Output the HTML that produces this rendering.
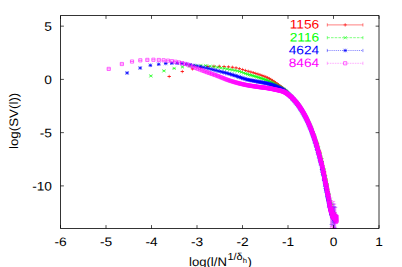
<!DOCTYPE html>
<html><head><meta charset="utf-8"><title>plot</title>
<style>html,body{margin:0;padding:0;background:#fff}svg{display:block}text{font-family:"Liberation Sans",sans-serif;text-rendering:geometricPrecision}</style>
</head><body>
<svg width="402" height="267" viewBox="0 0 402 267">
<defs>
<path id="p" d="M-1.7 0H1.7M0 -1.7V1.7"/>
<path id="c" d="M-1.6 -1.6L1.6 1.6M-1.6 1.6L1.6 -1.6"/>
<path id="s" d="M-1.8 0H1.8M0 -1.8V1.8M-1.7 -1.7L1.7 1.7M-1.7 1.7L1.7 -1.7"/>
<path id="b" d="M-1.6 -1.6H1.6V1.6H-1.6Z"/>
</defs>
<rect width="402" height="267" fill="#fff"/>
<clipPath id="cp"><rect x="60" y="15" width="319.5" height="214"/></clipPath>
<g clip-path="url(#cp)">
<g stroke="#ff0000" fill="none" stroke-width="0.6"><use href="#p" x="169.23" y="76.49"/><path d="M167.63 76.49h3.2"/><use href="#p" x="182.34" y="71.52"/><path d="M180.74 71.52h3.2"/><use href="#p" x="192.50" y="68.90"/><path d="M190.90 68.90h3.2"/><use href="#p" x="200.81" y="67.40"/><path d="M199.21 67.40h3.2"/><use href="#p" x="207.84" y="66.50"/><path d="M206.24 66.50h3.2"/><use href="#p" x="213.92" y="66.30"/><path d="M212.32 66.30h3.2"/><use href="#p" x="219.29" y="66.30"/><path d="M217.69 66.30h3.2"/><use href="#p" x="224.09" y="66.59"/><path d="M222.49 66.59h3.2"/><use href="#p" x="228.44" y="66.89"/><path d="M226.84 66.89h3.2"/><use href="#p" x="232.40" y="67.27"/><path d="M230.80 67.27h3.2"/><use href="#p" x="236.05" y="67.87"/><path d="M234.45 67.87h3.2"/><use href="#p" x="239.43" y="68.65"/><path d="M237.83 68.65h3.2"/><use href="#p" x="242.57" y="69.57"/><path d="M240.97 69.57h3.2"/><use href="#p" x="245.51" y="70.48"/><path d="M243.91 70.48h3.2"/><use href="#p" x="248.27" y="71.28"/><path d="M246.67 71.28h3.2"/><use href="#p" x="250.88" y="72.01"/><path d="M249.28 72.01h3.2"/><use href="#p" x="253.34" y="72.72"/><path d="M251.74 72.72h3.2"/><use href="#p" x="255.68" y="73.42"/><path d="M254.08 73.42h3.2"/><use href="#p" x="257.90" y="74.13"/><path d="M256.30 74.13h3.2"/><use href="#p" x="260.02" y="74.84"/><path d="M258.42 74.84h3.2"/><use href="#p" x="262.05" y="75.54"/><path d="M260.45 75.54h3.2"/><use href="#p" x="263.99" y="76.25"/><path d="M262.39 76.25h3.2"/><use href="#p" x="265.85" y="76.99"/><path d="M264.25 76.99h3.2"/><use href="#p" x="267.64" y="77.77"/><path d="M266.04 77.77h3.2"/><use href="#p" x="269.36" y="78.61"/><path d="M267.76 78.61h3.2"/><use href="#p" x="271.01" y="79.54"/><path d="M269.41 79.54h3.2"/><use href="#p" x="272.61" y="80.55"/><path d="M271.01 80.55h3.2"/><use href="#p" x="274.16" y="81.61"/><path d="M272.56 81.61h3.2"/><use href="#p" x="275.65" y="82.68"/><path d="M274.05 82.68h3.2"/><use href="#p" x="277.10" y="83.75"/><path d="M275.50 83.75h3.2"/><use href="#p" x="278.50" y="84.80"/><path d="M276.90 84.80h3.2"/><use href="#p" x="279.86" y="85.82"/><path d="M278.26 85.82h3.2"/><use href="#p" x="281.18" y="86.84"/><path d="M279.58 86.84h3.2"/><use href="#p" x="282.47" y="87.87"/><path d="M280.87 87.87h3.2"/><use href="#p" x="283.71" y="88.91"/><path d="M282.11 88.91h3.2"/><use href="#p" x="284.93" y="89.99"/><path d="M283.33 89.99h3.2"/><use href="#p" x="286.11" y="91.11"/><path d="M284.51 91.11h3.2"/><use href="#p" x="287.27" y="92.35"/><path d="M285.67 92.35h3.2"/><use href="#p" x="288.39" y="93.69"/><path d="M286.79 93.69h3.2"/><use href="#p" x="289.49" y="95.01"/><path d="M287.89 95.01h3.2"/><use href="#p" x="290.56" y="96.24"/><path d="M288.96 96.24h3.2"/><use href="#p" x="291.61" y="97.29"/><path d="M290.01 97.29h3.2"/><use href="#p" x="292.64" y="98.30"/><path d="M291.04 98.30h3.2"/><use href="#p" x="293.64" y="99.34"/><path d="M292.04 99.34h3.2"/><use href="#p" x="294.62" y="100.42"/><path d="M293.02 100.42h3.2"/><use href="#p" x="295.58" y="101.52"/><path d="M293.98 101.52h3.2"/><use href="#p" x="296.52" y="102.66"/><path d="M294.92 102.66h3.2"/><use href="#p" x="297.44" y="103.82"/><path d="M295.84 103.82h3.2"/><use href="#p" x="298.34" y="105.02"/><path d="M296.74 105.02h3.2"/><use href="#p" x="299.22" y="106.24"/><path d="M297.62 106.24h3.2"/><use href="#p" x="300.09" y="107.50"/><path d="M298.49 107.50h3.2"/><use href="#p" x="300.94" y="108.78"/><path d="M299.34 108.78h3.2"/><use href="#p" x="301.78" y="110.10"/><path d="M300.18 110.10h3.2"/><use href="#p" x="302.60" y="111.44"/><path d="M301.00 111.44h3.2"/><use href="#p" x="303.41" y="112.82"/><path d="M301.81 112.82h3.2"/><use href="#p" x="304.20" y="114.23"/><path d="M302.60 114.23h3.2"/><use href="#p" x="304.98" y="115.67"/><path d="M303.38 115.67h3.2"/><use href="#p" x="305.75" y="117.01"/><path d="M304.15 117.01h3.2"/><use href="#p" x="306.50" y="118.38"/><path d="M304.90 118.38h3.2"/><use href="#p" x="307.24" y="119.76"/><path d="M305.64 119.76h3.2"/><use href="#p" x="307.97" y="121.17"/><path d="M306.37 121.17h3.2"/><use href="#p" x="308.69" y="122.61"/><path d="M307.09 122.61h3.2"/><use href="#p" x="309.39" y="124.07"/><path d="M307.79 124.07h3.2"/><use href="#p" x="310.09" y="125.55"/><path d="M308.49 125.55h3.2"/><use href="#p" x="310.77" y="127.06"/><path d="M309.17 127.06h3.2"/><use href="#p" x="311.45" y="128.58"/><path d="M309.85 128.58h3.2"/><use href="#p" x="312.11" y="130.14"/><path d="M310.51 130.14h3.2"/><use href="#p" x="312.77" y="131.71"/><path d="M311.17 131.71h3.2"/><use href="#p" x="313.42" y="133.42"/><path d="M311.82 133.42h3.2"/><use href="#p" x="314.05" y="135.21"/><path d="M312.45 135.21h3.2"/><use href="#p" x="314.68" y="136.44"/><path stroke-width="0.4" d="M314.68 135.86V137.30M313.08 135.86h3.2M313.08 137.30h3.2"/><use href="#p" x="315.30" y="139.74"/><path stroke-width="0.4" d="M315.30 139.11V140.67M313.70 139.11h3.2M313.70 140.67h3.2"/><use href="#p" x="315.91" y="140.76"/><path stroke-width="0.4" d="M315.91 140.08V141.77M314.31 140.08h3.2M314.31 141.77h3.2"/><use href="#p" x="316.52" y="142.43"/><path stroke-width="0.4" d="M316.52 141.69V143.54M314.92 141.69h3.2M314.92 143.54h3.2"/><use href="#p" x="317.11" y="143.37"/><path stroke-width="0.4" d="M317.11 142.57V144.57M315.51 142.57h3.2M315.51 144.57h3.2"/><use href="#p" x="317.70" y="145.69"/><path stroke-width="0.4" d="M317.70 144.81V147.00M316.10 144.81h3.2M316.10 147.00h3.2"/><use href="#p" x="318.28" y="148.50"/><path stroke-width="0.4" d="M318.28 147.54V149.94M316.68 147.54h3.2M316.68 149.94h3.2"/><use href="#p" x="318.86" y="150.58"/><path stroke-width="0.4" d="M318.86 149.53V152.15M317.26 149.53h3.2M317.26 152.15h3.2"/><use href="#p" x="319.42" y="152.52"/><path stroke-width="0.4" d="M319.42 151.37V154.25M317.82 151.37h3.2M317.82 154.25h3.2"/><use href="#p" x="319.98" y="152.57"/><path stroke-width="0.4" d="M319.98 151.31V154.47M318.38 151.31h3.2M318.38 154.47h3.2"/><use href="#p" x="320.53" y="156.95"/><path stroke-width="0.4" d="M320.53 155.56V159.03M318.93 155.56h3.2M318.93 159.03h3.2"/><use href="#p" x="321.08" y="158.95"/><path stroke-width="0.4" d="M321.08 157.42V161.23M319.48 157.42h3.2M319.48 161.23h3.2"/><use href="#p" x="321.62" y="160.25"/><path stroke-width="0.4" d="M321.62 158.72V162.53M320.02 158.72h3.2M320.02 162.53h3.2"/><use href="#p" x="322.15" y="163.14"/><path stroke-width="0.4" d="M322.15 161.62V165.43M320.55 161.62h3.2M320.55 165.43h3.2"/><use href="#p" x="322.68" y="165.52"/><path stroke-width="0.4" d="M322.68 163.99V167.80M321.08 163.99h3.2M321.08 167.80h3.2"/><use href="#p" x="323.20" y="169.09"/><path stroke-width="0.4" d="M323.20 167.56V171.37M321.60 167.56h3.2M321.60 171.37h3.2"/><use href="#p" x="323.71" y="169.89"/><path stroke-width="0.4" d="M323.71 168.37V172.17M322.11 168.37h3.2M322.11 172.17h3.2"/><use href="#p" x="324.22" y="172.85"/><path stroke-width="0.4" d="M324.22 171.32V175.13M322.62 171.32h3.2M322.62 175.13h3.2"/><use href="#p" x="324.73" y="173.00"/><path stroke-width="0.4" d="M324.73 171.48V175.29M323.13 171.48h3.2M323.13 175.29h3.2"/><use href="#p" x="325.22" y="176.12"/><path stroke-width="0.4" d="M325.22 174.60V178.41M323.62 174.60h3.2M323.62 178.41h3.2"/><use href="#p" x="325.72" y="179.49"/><path stroke-width="0.4" d="M325.72 177.97V181.78M324.12 177.97h3.2M324.12 181.78h3.2"/><use href="#p" x="326.20" y="180.98"/><path stroke-width="0.4" d="M326.20 179.46V183.27M324.60 179.46h3.2M324.60 183.27h3.2"/><use href="#p" x="326.69" y="184.85"/><path stroke-width="0.4" d="M326.69 183.32V187.13M325.09 183.32h3.2M325.09 187.13h3.2"/><use href="#p" x="327.16" y="185.39"/><path stroke-width="0.4" d="M327.16 183.87V187.68M325.56 183.87h3.2M325.56 187.68h3.2"/><use href="#p" x="327.64" y="189.34"/><path stroke-width="0.4" d="M327.64 187.82V191.62M326.04 187.82h3.2M326.04 191.62h3.2"/><use href="#p" x="328.10" y="190.99"/><path stroke-width="0.4" d="M328.10 189.47V193.27M326.50 189.47h3.2M326.50 193.27h3.2"/><use href="#p" x="328.57" y="196.05"/><path stroke-width="0.4" d="M328.57 194.52V198.33M326.97 194.52h3.2M326.97 198.33h3.2"/><use href="#p" x="329.02" y="196.19"/><path stroke-width="0.4" d="M329.02 194.67V198.48M327.42 194.67h3.2M327.42 198.48h3.2"/><use href="#p" x="329.48" y="201.39"/><path stroke-width="0.4" d="M329.48 199.86V203.67M327.88 199.86h3.2M327.88 203.67h3.2"/><use href="#p" x="329.93" y="204.17"/><path stroke-width="0.4" d="M329.93 202.65V206.45M328.33 202.65h3.2M328.33 206.45h3.2"/><use href="#p" x="330.37" y="203.97"/><path stroke-width="0.4" d="M330.37 202.44V206.25M328.77 202.44h3.2M328.77 206.25h3.2"/><use href="#p" x="330.81" y="206.88"/><path stroke-width="0.4" d="M330.81 205.36V209.17M329.21 205.36h3.2M329.21 209.17h3.2"/><use href="#p" x="331.25" y="204.44"/><path stroke-width="0.4" d="M331.25 202.92V206.72M329.65 202.92h3.2M329.65 206.72h3.2"/><use href="#p" x="331.68" y="210.18"/><path stroke-width="0.4" d="M331.68 208.65V212.46M330.08 208.65h3.2M330.08 212.46h3.2"/><use href="#p" x="332.11" y="210.18"/><path stroke-width="0.4" d="M332.11 208.65V212.46M330.51 208.65h3.2M330.51 212.46h3.2"/><use href="#p" x="332.53" y="212.50"/><path stroke-width="0.4" d="M332.53 210.98V214.79M330.93 210.98h3.2M330.93 214.79h3.2"/><use href="#p" x="332.95" y="212.65"/><path stroke-width="0.4" d="M332.95 211.13V214.94M331.35 211.13h3.2M331.35 214.94h3.2"/><use href="#p" x="333.37" y="214.43"/><path stroke-width="0.4" d="M333.37 212.91V216.72M331.77 212.91h3.2M331.77 216.72h3.2"/><use href="#p" x="333.78" y="216.57"/><path stroke-width="0.4" d="M333.78 215.05V218.85M332.18 215.05h3.2M332.18 218.85h3.2"/><use href="#p" x="334.19" y="216.91"/><path stroke-width="0.4" d="M334.19 215.39V219.20M332.59 215.39h3.2M332.59 219.20h3.2"/><use href="#p" x="334.59" y="215.95"/><path stroke-width="0.4" d="M334.59 214.43V218.23M332.99 214.43h3.2M332.99 218.23h3.2"/></g>
<g stroke="#00ff00" fill="none" stroke-width="0.6"><use href="#c" x="150.86" y="75.92"/><path d="M149.26 75.92h3.2"/><use href="#c" x="163.97" y="70.86"/><path d="M162.37 70.86h3.2"/><use href="#c" x="174.14" y="68.38"/><path d="M172.54 68.38h3.2"/><use href="#c" x="182.45" y="66.93"/><path d="M180.85 66.93h3.2"/><use href="#c" x="189.47" y="66.03"/><path d="M187.87 66.03h3.2"/><use href="#c" x="195.56" y="65.58"/><path d="M193.96 65.58h3.2"/><use href="#c" x="200.92" y="65.42"/><path d="M199.32 65.42h3.2"/><use href="#c" x="205.73" y="65.59"/><path d="M204.13 65.59h3.2"/><use href="#c" x="210.07" y="66.21"/><path d="M208.47 66.21h3.2"/><use href="#c" x="214.03" y="66.76"/><path d="M212.43 66.76h3.2"/><use href="#c" x="217.68" y="67.33"/><path d="M216.08 67.33h3.2"/><use href="#c" x="221.06" y="67.90"/><path d="M219.46 67.90h3.2"/><use href="#c" x="224.20" y="68.46"/><path d="M222.60 68.46h3.2"/><use href="#c" x="227.14" y="69.00"/><path d="M225.54 69.00h3.2"/><use href="#c" x="229.91" y="69.51"/><path d="M228.31 69.51h3.2"/><use href="#c" x="232.51" y="69.98"/><path d="M230.91 69.98h3.2"/><use href="#c" x="234.98" y="70.43"/><path d="M233.38 70.43h3.2"/><use href="#c" x="237.31" y="70.92"/><path d="M235.71 70.92h3.2"/><use href="#c" x="239.54" y="71.47"/><path d="M237.94 71.47h3.2"/><use href="#c" x="241.66" y="72.16"/><path d="M240.06 72.16h3.2"/><use href="#c" x="243.68" y="72.90"/><path d="M242.08 72.90h3.2"/><use href="#c" x="245.62" y="73.59"/><path d="M244.02 73.59h3.2"/><use href="#c" x="247.48" y="74.18"/><path d="M245.88 74.18h3.2"/><use href="#c" x="249.27" y="74.71"/><path d="M247.67 74.71h3.2"/><use href="#c" x="250.99" y="75.20"/><path d="M249.39 75.20h3.2"/><use href="#c" x="252.65" y="75.67"/><path d="M251.05 75.67h3.2"/><use href="#c" x="254.25" y="76.12"/><path d="M252.65 76.12h3.2"/><use href="#c" x="255.79" y="76.57"/><path d="M254.19 76.57h3.2"/><use href="#c" x="257.28" y="77.03"/><path d="M255.68 77.03h3.2"/><use href="#c" x="258.73" y="77.49"/><path d="M257.13 77.49h3.2"/><use href="#c" x="260.13" y="77.93"/><path d="M258.53 77.93h3.2"/><use href="#c" x="261.49" y="78.37"/><path d="M259.89 78.37h3.2"/><use href="#c" x="262.82" y="78.80"/><path d="M261.22 78.80h3.2"/><use href="#c" x="264.10" y="79.23"/><path d="M262.50 79.23h3.2"/><use href="#c" x="265.35" y="79.67"/><path d="M263.75 79.67h3.2"/><use href="#c" x="266.56" y="80.12"/><path d="M264.96 80.12h3.2"/><use href="#c" x="267.75" y="80.59"/><path d="M266.15 80.59h3.2"/><use href="#c" x="268.90" y="81.06"/><path d="M267.30 81.06h3.2"/><use href="#c" x="270.03" y="81.57"/><path d="M268.43 81.57h3.2"/><use href="#c" x="271.12" y="82.10"/><path d="M269.52 82.10h3.2"/><use href="#c" x="272.20" y="82.65"/><path d="M270.60 82.65h3.2"/><use href="#c" x="273.24" y="83.21"/><path d="M271.64 83.21h3.2"/><use href="#c" x="274.27" y="83.78"/><path d="M272.67 83.78h3.2"/><use href="#c" x="275.27" y="84.35"/><path d="M273.67 84.35h3.2"/><use href="#c" x="276.25" y="84.92"/><path d="M274.65 84.92h3.2"/><use href="#c" x="277.21" y="85.49"/><path d="M275.61 85.49h3.2"/><use href="#c" x="278.15" y="86.05"/><path d="M276.55 86.05h3.2"/><use href="#c" x="279.07" y="86.60"/><path d="M277.47 86.60h3.2"/><use href="#c" x="279.97" y="87.14"/><path d="M278.37 87.14h3.2"/><use href="#c" x="280.86" y="87.67"/><path d="M279.26 87.67h3.2"/><use href="#c" x="281.72" y="88.20"/><path d="M280.12 88.20h3.2"/><use href="#c" x="282.58" y="88.75"/><path d="M280.98 88.75h3.2"/><use href="#c" x="283.41" y="89.31"/><path d="M281.81 89.31h3.2"/><use href="#c" x="284.23" y="89.91"/><path d="M282.63 89.91h3.2"/><use href="#c" x="285.04" y="90.53"/><path d="M283.44 90.53h3.2"/><use href="#c" x="285.83" y="91.22"/><path d="M284.23 91.22h3.2"/><use href="#c" x="286.61" y="91.98"/><path d="M285.01 91.98h3.2"/><use href="#c" x="287.38" y="92.78"/><path d="M285.78 92.78h3.2"/><use href="#c" x="288.13" y="93.60"/><path d="M286.53 93.60h3.2"/><use href="#c" x="288.87" y="94.43"/><path d="M287.27 94.43h3.2"/><use href="#c" x="289.60" y="95.23"/><path d="M288.00 95.23h3.2"/><use href="#c" x="290.32" y="96.00"/><path d="M288.72 96.00h3.2"/><use href="#c" x="291.03" y="96.72"/><path d="M289.43 96.72h3.2"/><use href="#c" x="291.72" y="97.39"/><path d="M290.12 97.39h3.2"/><use href="#c" x="292.41" y="98.07"/><path d="M290.81 98.07h3.2"/><use href="#c" x="293.08" y="98.76"/><path d="M291.48 98.76h3.2"/><use href="#c" x="293.75" y="99.46"/><path d="M292.15 99.46h3.2"/><use href="#c" x="294.40" y="100.18"/><path d="M292.80 100.18h3.2"/><use href="#c" x="295.05" y="100.91"/><path d="M293.45 100.91h3.2"/><use href="#c" x="295.69" y="101.65"/><path d="M294.09 101.65h3.2"/><use href="#c" x="296.32" y="102.41"/><path d="M294.72 102.41h3.2"/><use href="#c" x="296.94" y="103.18"/><path d="M295.34 103.18h3.2"/><use href="#c" x="297.55" y="103.97"/><path d="M295.95 103.97h3.2"/><use href="#c" x="298.15" y="104.76"/><path d="M296.55 104.76h3.2"/><use href="#c" x="298.75" y="105.57"/><path d="M297.15 105.57h3.2"/><use href="#c" x="299.33" y="106.40"/><path d="M297.73 106.40h3.2"/><use href="#c" x="299.92" y="107.24"/><path d="M298.32 107.24h3.2"/><use href="#c" x="300.49" y="108.09"/><path d="M298.89 108.09h3.2"/><use href="#c" x="301.05" y="108.95"/><path d="M299.45 108.95h3.2"/><use href="#c" x="301.61" y="109.83"/><path d="M300.01 109.83h3.2"/><use href="#c" x="302.17" y="110.72"/><path d="M300.57 110.72h3.2"/><use href="#c" x="302.71" y="111.63"/><path d="M301.11 111.63h3.2"/><use href="#c" x="303.25" y="112.55"/><path d="M301.65 112.55h3.2"/><use href="#c" x="303.78" y="113.48"/><path d="M302.18 113.48h3.2"/><use href="#c" x="304.31" y="114.43"/><path d="M302.71 114.43h3.2"/><use href="#c" x="304.83" y="115.39"/><path d="M303.23 115.39h3.2"/><use href="#c" x="305.35" y="116.33"/><path d="M303.75 116.33h3.2"/><use href="#c" x="305.86" y="117.25"/><path d="M304.26 117.25h3.2"/><use href="#c" x="306.36" y="118.19"/><path d="M304.76 118.19h3.2"/><use href="#c" x="306.86" y="119.14"/><path d="M305.26 119.14h3.2"/><use href="#c" x="307.35" y="120.10"/><path d="M305.75 120.10h3.2"/><use href="#c" x="307.84" y="121.07"/><path d="M306.24 121.07h3.2"/><use href="#c" x="308.32" y="122.05"/><path d="M306.72 122.05h3.2"/><use href="#c" x="308.80" y="123.05"/><path d="M307.20 123.05h3.2"/><use href="#c" x="309.27" y="124.06"/><path d="M307.67 124.06h3.2"/><use href="#c" x="309.74" y="125.08"/><path d="M308.14 125.08h3.2"/><use href="#c" x="310.20" y="126.11"/><path d="M308.60 126.11h3.2"/><use href="#c" x="310.66" y="127.15"/><path d="M309.06 127.15h3.2"/><use href="#c" x="311.11" y="128.20"/><path d="M309.51 128.20h3.2"/><use href="#c" x="311.56" y="129.27"/><path d="M309.96 129.27h3.2"/><use href="#c" x="312.00" y="130.35"/><path d="M310.40 130.35h3.2"/><use href="#c" x="312.44" y="131.43"/><path d="M310.84 131.43h3.2"/><use href="#c" x="312.88" y="132.53"/><path d="M311.28 132.53h3.2"/><use href="#c" x="313.31" y="133.70"/><path d="M311.71 133.70h3.2"/><use href="#c" x="313.74" y="134.91"/><path d="M312.14 134.91h3.2"/><use href="#c" x="314.16" y="136.31"/><path stroke-width="0.4" d="M314.16 135.89V136.93M312.56 135.89h3.2M312.56 136.93h3.2"/><use href="#c" x="314.58" y="137.42"/><path stroke-width="0.4" d="M314.58 136.98V138.08M312.98 136.98h3.2M312.98 138.08h3.2"/><use href="#c" x="315.00" y="138.81"/><path stroke-width="0.4" d="M315.00 138.35V139.51M313.40 138.35h3.2M313.40 139.51h3.2"/><use href="#c" x="315.41" y="140.03"/><path stroke-width="0.4" d="M315.41 139.54V140.77M313.81 139.54h3.2M313.81 140.77h3.2"/><use href="#c" x="315.82" y="140.81"/><path stroke-width="0.4" d="M315.82 140.29V141.59M314.22 140.29h3.2M314.22 141.59h3.2"/><use href="#c" x="316.23" y="142.57"/><path stroke-width="0.4" d="M316.23 142.02V143.39M314.63 142.02h3.2M314.63 143.39h3.2"/><use href="#c" x="316.63" y="143.28"/><path stroke-width="0.4" d="M316.63 142.70V144.15M315.03 142.70h3.2M315.03 144.15h3.2"/><use href="#c" x="317.03" y="144.58"/><path stroke-width="0.4" d="M317.03 143.96V145.50M315.43 143.96h3.2M315.43 145.50h3.2"/><use href="#c" x="317.42" y="144.88"/><path stroke-width="0.4" d="M317.42 144.23V145.86M315.82 144.23h3.2M315.82 145.86h3.2"/><use href="#c" x="317.81" y="148.29"/><path stroke-width="0.4" d="M317.81 147.60V149.33M316.21 147.60h3.2M316.21 149.33h3.2"/><use href="#c" x="318.20" y="148.16"/><path stroke-width="0.4" d="M318.20 147.43V149.27M316.60 147.43h3.2M316.60 149.27h3.2"/><use href="#c" x="318.58" y="150.18"/><path stroke-width="0.4" d="M318.58 149.39V151.35M316.98 149.39h3.2M316.98 151.35h3.2"/><use href="#c" x="318.97" y="151.49"/><path stroke-width="0.4" d="M318.97 150.66V152.74M317.37 150.66h3.2M317.37 152.74h3.2"/><use href="#c" x="319.34" y="154.03"/><path stroke-width="0.4" d="M319.34 153.14V155.35M317.74 153.14h3.2M317.74 155.35h3.2"/><use href="#c" x="319.72" y="154.65"/><path stroke-width="0.4" d="M319.72 153.71V156.06M318.12 153.71h3.2M318.12 156.06h3.2"/><use href="#c" x="320.09" y="154.99"/><path stroke-width="0.4" d="M320.09 153.99V156.49M318.49 153.99h3.2M318.49 156.49h3.2"/><use href="#c" x="320.46" y="157.16"/><path stroke-width="0.4" d="M320.46 156.10V158.76M318.86 156.10h3.2M318.86 158.76h3.2"/><use href="#c" x="320.83" y="158.43"/><path stroke-width="0.4" d="M320.83 157.29V160.13M319.23 157.29h3.2M319.23 160.13h3.2"/><use href="#c" x="321.19" y="160.28"/><path stroke-width="0.4" d="M321.19 159.06V162.09M319.59 159.06h3.2M319.59 162.09h3.2"/><use href="#c" x="321.55" y="160.05"/><path stroke-width="0.4" d="M321.55 158.76V161.99M319.95 158.76h3.2M319.95 161.99h3.2"/><use href="#c" x="321.91" y="162.90"/><path stroke-width="0.4" d="M321.91 161.52V164.97M320.31 161.52h3.2M320.31 164.97h3.2"/><use href="#c" x="322.26" y="167.30"/><path stroke-width="0.4" d="M322.26 165.83V169.52M320.66 165.83h3.2M320.66 169.52h3.2"/><use href="#c" x="322.61" y="166.82"/><path stroke-width="0.4" d="M322.61 165.30V169.10M321.01 165.30h3.2M321.01 169.10h3.2"/><use href="#c" x="322.96" y="170.13"/><path stroke-width="0.4" d="M322.96 168.61V172.42M321.36 168.61h3.2M321.36 172.42h3.2"/><use href="#c" x="323.31" y="173.47"/><path stroke-width="0.4" d="M323.31 171.95V175.75M321.71 171.95h3.2M321.71 175.75h3.2"/><use href="#c" x="323.65" y="171.27"/><path stroke-width="0.4" d="M323.65 169.75V173.56M322.05 169.75h3.2M322.05 173.56h3.2"/><use href="#c" x="323.99" y="170.28"/><path stroke-width="0.4" d="M323.99 168.75V172.56M322.39 168.75h3.2M322.39 172.56h3.2"/><use href="#c" x="324.33" y="173.65"/><path stroke-width="0.4" d="M324.33 172.13V175.94M322.73 172.13h3.2M322.73 175.94h3.2"/><use href="#c" x="324.67" y="176.95"/><path stroke-width="0.4" d="M324.67 175.43V179.23M323.07 175.43h3.2M323.07 179.23h3.2"/><use href="#c" x="325.00" y="178.25"/><path stroke-width="0.4" d="M325.00 176.72V180.53M323.40 176.72h3.2M323.40 180.53h3.2"/><use href="#c" x="325.34" y="177.01"/><path stroke-width="0.4" d="M325.34 175.48V179.29M323.74 175.48h3.2M323.74 179.29h3.2"/><use href="#c" x="325.66" y="179.99"/><path stroke-width="0.4" d="M325.66 178.47V182.28M324.06 178.47h3.2M324.06 182.28h3.2"/><use href="#c" x="325.99" y="181.79"/><path stroke-width="0.4" d="M325.99 180.26V184.07M324.39 180.26h3.2M324.39 184.07h3.2"/><use href="#c" x="326.32" y="183.58"/><path stroke-width="0.4" d="M326.32 182.05V185.86M324.72 182.05h3.2M324.72 185.86h3.2"/><use href="#c" x="326.64" y="185.11"/><path stroke-width="0.4" d="M326.64 183.59V187.39M325.04 183.59h3.2M325.04 187.39h3.2"/><use href="#c" x="326.96" y="185.70"/><path stroke-width="0.4" d="M326.96 184.18V187.99M325.36 184.18h3.2M325.36 187.99h3.2"/><use href="#c" x="327.27" y="187.71"/><path stroke-width="0.4" d="M327.27 186.19V189.99M325.67 186.19h3.2M325.67 189.99h3.2"/><use href="#c" x="327.59" y="189.84"/><path stroke-width="0.4" d="M327.59 188.32V192.12M325.99 188.32h3.2M325.99 192.12h3.2"/><use href="#c" x="327.90" y="193.23"/><path stroke-width="0.4" d="M327.90 191.71V195.52M326.30 191.71h3.2M326.30 195.52h3.2"/><use href="#c" x="328.21" y="192.72"/><path stroke-width="0.4" d="M328.21 191.19V195.00M326.61 191.19h3.2M326.61 195.00h3.2"/><use href="#c" x="328.52" y="196.01"/><path stroke-width="0.4" d="M328.52 194.48V198.29M326.92 194.48h3.2M326.92 198.29h3.2"/><use href="#c" x="328.83" y="195.16"/><path stroke-width="0.4" d="M328.83 193.64V197.44M327.23 193.64h3.2M327.23 197.44h3.2"/><use href="#c" x="329.13" y="200.01"/><path stroke-width="0.4" d="M329.13 198.49V202.29M327.53 198.49h3.2M327.53 202.29h3.2"/><use href="#c" x="329.44" y="200.00"/><path stroke-width="0.4" d="M329.44 198.48V202.29M327.84 198.48h3.2M327.84 202.29h3.2"/><use href="#c" x="329.74" y="201.35"/><path stroke-width="0.4" d="M329.74 199.83V203.64M328.14 199.83h3.2M328.14 203.64h3.2"/><use href="#c" x="330.04" y="204.64"/><path stroke-width="0.4" d="M330.04 203.12V206.93M328.44 203.12h3.2M328.44 206.93h3.2"/><use href="#c" x="330.33" y="201.85"/><path stroke-width="0.4" d="M330.33 200.32V204.13M328.73 200.32h3.2M328.73 204.13h3.2"/><use href="#c" x="330.63" y="203.59"/><path stroke-width="0.4" d="M330.63 202.07V205.87M329.03 202.07h3.2M329.03 205.87h3.2"/><use href="#c" x="330.92" y="207.55"/><path stroke-width="0.4" d="M330.92 206.03V209.84M329.32 206.03h3.2M329.32 209.84h3.2"/><use href="#c" x="331.21" y="207.60"/><path stroke-width="0.4" d="M331.21 206.07V209.88M329.61 206.07h3.2M329.61 209.88h3.2"/><use href="#c" x="331.50" y="208.93"/><path stroke-width="0.4" d="M331.50 207.40V211.21M329.90 207.40h3.2M329.90 211.21h3.2"/><use href="#c" x="331.79" y="210.23"/><path stroke-width="0.4" d="M331.79 208.70V212.51M330.19 208.70h3.2M330.19 212.51h3.2"/><use href="#c" x="332.08" y="211.67"/><path stroke-width="0.4" d="M332.08 210.15V213.96M330.48 210.15h3.2M330.48 213.96h3.2"/><use href="#c" x="332.36" y="210.53"/><path stroke-width="0.4" d="M332.36 209.01V212.82M330.76 209.01h3.2M330.76 212.82h3.2"/><use href="#c" x="332.64" y="212.99"/><path stroke-width="0.4" d="M332.64 211.46V215.27M331.04 211.46h3.2M331.04 215.27h3.2"/><use href="#c" x="332.92" y="214.45"/><path stroke-width="0.4" d="M332.92 212.93V216.74M331.32 212.93h3.2M331.32 216.74h3.2"/><use href="#c" x="333.20" y="216.81"/><path stroke-width="0.4" d="M333.20 215.29V219.09M331.60 215.29h3.2M331.60 219.09h3.2"/><use href="#c" x="333.48" y="213.50"/><path stroke-width="0.4" d="M333.48 211.98V215.79M331.88 211.98h3.2M331.88 215.79h3.2"/><use href="#c" x="333.75" y="214.39"/><path stroke-width="0.4" d="M333.75 212.86V216.67M332.15 212.86h3.2M332.15 216.67h3.2"/><use href="#c" x="334.03" y="215.41"/><path stroke-width="0.4" d="M334.03 213.89V217.70M332.43 213.89h3.2M332.43 217.70h3.2"/><use href="#c" x="334.30" y="216.33"/><path stroke-width="0.4" d="M334.30 214.81V218.62M332.70 214.81h3.2M332.70 218.62h3.2"/><use href="#c" x="334.57" y="214.25"/><path stroke-width="0.4" d="M334.57 212.72V216.53M332.97 212.72h3.2M332.97 216.53h3.2"/><use href="#c" x="334.84" y="216.67"/><path stroke-width="0.4" d="M334.84 215.15V218.95M333.24 215.15h3.2M333.24 218.95h3.2"/><use href="#c" x="335.11" y="217.67"/><path stroke-width="0.4" d="M335.11 216.14V219.95M333.51 216.14h3.2M333.51 219.95h3.2"/></g>
<g stroke="#0000ff" fill="none" stroke-width="0.6"><use href="#s" x="127.11" y="72.95"/><path d="M125.51 72.95h3.2"/><use href="#s" x="140.22" y="67.99"/><path d="M138.62 67.99h3.2"/><use href="#s" x="150.39" y="65.30"/><path d="M148.79 65.30h3.2"/><use href="#s" x="158.70" y="64.25"/><path d="M157.10 64.25h3.2"/><use href="#s" x="165.72" y="63.50"/><path d="M164.12 63.50h3.2"/><use href="#s" x="171.81" y="63.25"/><path d="M170.21 63.25h3.2"/><use href="#s" x="177.17" y="63.25"/><path d="M175.57 63.25h3.2"/><use href="#s" x="181.98" y="63.50"/><path d="M180.38 63.50h3.2"/><use href="#s" x="186.32" y="64.09"/><path d="M184.72 64.09h3.2"/><use href="#s" x="190.28" y="64.75"/><path d="M188.68 64.75h3.2"/><use href="#s" x="193.93" y="65.40"/><path d="M192.33 65.40h3.2"/><use href="#s" x="197.31" y="66.05"/><path d="M195.71 66.05h3.2"/><use href="#s" x="200.45" y="66.71"/><path d="M198.85 66.71h3.2"/><use href="#s" x="203.39" y="67.35"/><path d="M201.79 67.35h3.2"/><use href="#s" x="206.16" y="67.98"/><path d="M204.56 67.98h3.2"/><use href="#s" x="208.76" y="68.59"/><path d="M207.16 68.59h3.2"/><use href="#s" x="211.23" y="69.20"/><path d="M209.63 69.20h3.2"/><use href="#s" x="213.56" y="69.80"/><path d="M211.96 69.80h3.2"/><use href="#s" x="215.79" y="70.36"/><path d="M214.19 70.36h3.2"/><use href="#s" x="217.91" y="70.90"/><path d="M216.31 70.90h3.2"/><use href="#s" x="219.93" y="71.41"/><path d="M218.33 71.41h3.2"/><use href="#s" x="221.87" y="71.89"/><path d="M220.27 71.89h3.2"/><use href="#s" x="223.73" y="72.36"/><path d="M222.13 72.36h3.2"/><use href="#s" x="225.52" y="72.82"/><path d="M223.92 72.82h3.2"/><use href="#s" x="227.24" y="73.28"/><path d="M225.64 73.28h3.2"/><use href="#s" x="228.90" y="73.74"/><path d="M227.30 73.74h3.2"/><use href="#s" x="230.50" y="74.21"/><path d="M228.90 74.21h3.2"/><use href="#s" x="232.04" y="74.69"/><path d="M230.44 74.69h3.2"/><use href="#s" x="233.53" y="75.16"/><path d="M231.93 75.16h3.2"/><use href="#s" x="234.98" y="75.63"/><path d="M233.38 75.63h3.2"/><use href="#s" x="236.38" y="76.08"/><path d="M234.78 76.08h3.2"/><use href="#s" x="237.74" y="76.53"/><path d="M236.14 76.53h3.2"/><use href="#s" x="239.07" y="76.95"/><path d="M237.47 76.95h3.2"/><use href="#s" x="240.35" y="77.38"/><path d="M238.75 77.38h3.2"/><use href="#s" x="241.60" y="77.82"/><path d="M240.00 77.82h3.2"/><use href="#s" x="242.81" y="78.24"/><path d="M241.21 78.24h3.2"/><use href="#s" x="244.00" y="78.64"/><path d="M242.40 78.64h3.2"/><use href="#s" x="245.15" y="79.00"/><path d="M243.55 79.00h3.2"/><use href="#s" x="246.28" y="79.31"/><path d="M244.68 79.31h3.2"/><use href="#s" x="247.37" y="79.58"/><path d="M245.77 79.58h3.2"/><use href="#s" x="248.45" y="79.82"/><path d="M246.85 79.82h3.2"/><use href="#s" x="249.49" y="80.05"/><path d="M247.89 80.05h3.2"/><use href="#s" x="250.52" y="80.26"/><path d="M248.92 80.26h3.2"/><use href="#s" x="251.52" y="80.46"/><path d="M249.92 80.46h3.2"/><use href="#s" x="252.50" y="80.65"/><path d="M250.90 80.65h3.2"/><use href="#s" x="253.46" y="80.83"/><path d="M251.86 80.83h3.2"/><use href="#s" x="254.40" y="81.01"/><path d="M252.80 81.01h3.2"/><use href="#s" x="255.32" y="81.18"/><path d="M253.72 81.18h3.2"/><use href="#s" x="256.22" y="81.35"/><path d="M254.62 81.35h3.2"/><use href="#s" x="257.11" y="81.52"/><path d="M255.51 81.52h3.2"/><use href="#s" x="257.98" y="81.69"/><path d="M256.38 81.69h3.2"/><use href="#s" x="258.83" y="81.86"/><path d="M257.23 81.86h3.2"/><use href="#s" x="259.66" y="82.01"/><path d="M258.06 82.01h3.2"/><use href="#s" x="260.48" y="82.15"/><path d="M258.88 82.15h3.2"/><use href="#s" x="261.29" y="82.30"/><path d="M259.69 82.30h3.2"/><use href="#s" x="262.08" y="82.43"/><path d="M260.48 82.43h3.2"/><use href="#s" x="262.86" y="82.57"/><path d="M261.26 82.57h3.2"/><use href="#s" x="263.63" y="82.71"/><path d="M262.03 82.71h3.2"/><use href="#s" x="264.38" y="82.85"/><path d="M262.78 82.85h3.2"/><use href="#s" x="265.12" y="82.99"/><path d="M263.52 82.99h3.2"/><use href="#s" x="265.85" y="83.14"/><path d="M264.25 83.14h3.2"/><use href="#s" x="266.57" y="83.29"/><path d="M264.97 83.29h3.2"/><use href="#s" x="267.28" y="83.44"/><path d="M265.68 83.44h3.2"/><use href="#s" x="267.97" y="83.61"/><path d="M266.37 83.61h3.2"/><use href="#s" x="268.66" y="83.78"/><path d="M267.06 83.78h3.2"/><use href="#s" x="269.33" y="83.96"/><path d="M267.73 83.96h3.2"/><use href="#s" x="270.00" y="84.14"/><path d="M268.40 84.14h3.2"/><use href="#s" x="270.65" y="84.34"/><path d="M269.05 84.34h3.2"/><use href="#s" x="271.30" y="84.55"/><path d="M269.70 84.55h3.2"/><use href="#s" x="271.94" y="84.76"/><path d="M270.34 84.76h3.2"/><use href="#s" x="272.57" y="84.98"/><path d="M270.97 84.98h3.2"/><use href="#s" x="273.19" y="85.20"/><path d="M271.59 85.20h3.2"/><use href="#s" x="273.80" y="85.43"/><path d="M272.20 85.43h3.2"/><use href="#s" x="274.40" y="85.66"/><path d="M272.80 85.66h3.2"/><use href="#s" x="275.00" y="85.90"/><path d="M273.40 85.90h3.2"/><use href="#s" x="275.58" y="86.14"/><path d="M273.98 86.14h3.2"/><use href="#s" x="276.17" y="86.39"/><path d="M274.57 86.39h3.2"/><use href="#s" x="276.74" y="86.63"/><path d="M275.14 86.63h3.2"/><use href="#s" x="277.30" y="86.88"/><path d="M275.70 86.88h3.2"/><use href="#s" x="277.86" y="87.13"/><path d="M276.26 87.13h3.2"/><use href="#s" x="278.42" y="87.38"/><path d="M276.82 87.38h3.2"/><use href="#s" x="278.96" y="87.63"/><path d="M277.36 87.63h3.2"/><use href="#s" x="279.50" y="87.88"/><path d="M277.90 87.88h3.2"/><use href="#s" x="280.03" y="88.15"/><path d="M278.43 88.15h3.2"/><use href="#s" x="280.56" y="88.42"/><path d="M278.96 88.42h3.2"/><use href="#s" x="281.08" y="88.70"/><path d="M279.48 88.70h3.2"/><use href="#s" x="281.60" y="88.99"/><path d="M280.00 88.99h3.2"/><use href="#s" x="282.11" y="89.29"/><path d="M280.51 89.29h3.2"/><use href="#s" x="282.61" y="89.59"/><path d="M281.01 89.59h3.2"/><use href="#s" x="283.11" y="89.91"/><path d="M281.51 89.91h3.2"/><use href="#s" x="283.60" y="90.23"/><path d="M282.00 90.23h3.2"/><use href="#s" x="284.09" y="90.56"/><path d="M282.49 90.56h3.2"/><use href="#s" x="284.57" y="90.91"/><path d="M282.97 90.91h3.2"/><use href="#s" x="285.05" y="91.27"/><path d="M283.45 91.27h3.2"/><use href="#s" x="285.52" y="91.65"/><path d="M283.92 91.65h3.2"/><use href="#s" x="285.99" y="92.04"/><path d="M284.39 92.04h3.2"/><use href="#s" x="286.45" y="92.43"/><path d="M284.85 92.43h3.2"/><use href="#s" x="286.91" y="92.84"/><path d="M285.31 92.84h3.2"/><use href="#s" x="287.36" y="93.25"/><path d="M285.76 93.25h3.2"/><use href="#s" x="287.81" y="93.67"/><path d="M286.21 93.67h3.2"/><use href="#s" x="288.25" y="94.09"/><path d="M286.65 94.09h3.2"/><use href="#s" x="288.69" y="94.51"/><path d="M287.09 94.51h3.2"/><use href="#s" x="289.13" y="94.92"/><path d="M287.53 94.92h3.2"/><use href="#s" x="289.56" y="95.34"/><path d="M287.96 95.34h3.2"/><use href="#s" x="289.99" y="95.74"/><path d="M288.39 95.74h3.2"/><use href="#s" x="290.41" y="96.15"/><path d="M288.81 96.15h3.2"/><use href="#s" x="290.83" y="96.54"/><path d="M289.23 96.54h3.2"/><use href="#s" x="291.25" y="96.93"/><path d="M289.65 96.93h3.2"/><use href="#s" x="291.66" y="97.33"/><path d="M290.06 97.33h3.2"/><use href="#s" x="292.07" y="98.18"/><path d="M290.47 98.18h3.2"/><use href="#s" x="292.48" y="98.59"/><path d="M290.88 98.59h3.2"/><use href="#s" x="292.88" y="99.01"/><path d="M291.28 99.01h3.2"/><use href="#s" x="293.28" y="99.43"/><path d="M291.68 99.43h3.2"/><use href="#s" x="293.67" y="99.86"/><path d="M292.07 99.86h3.2"/><use href="#s" x="294.06" y="100.30"/><path d="M292.46 100.30h3.2"/><use href="#s" x="294.45" y="100.73"/><path d="M292.85 100.73h3.2"/><use href="#s" x="294.83" y="101.18"/><path d="M293.23 101.18h3.2"/><use href="#s" x="295.22" y="101.62"/><path d="M293.62 101.62h3.2"/><use href="#s" x="295.59" y="102.08"/><path d="M293.99 102.08h3.2"/><use href="#s" x="295.97" y="102.53"/><path d="M294.37 102.53h3.2"/><use href="#s" x="296.34" y="102.99"/><path d="M294.74 102.99h3.2"/><use href="#s" x="296.71" y="103.46"/><path d="M295.11 103.46h3.2"/><use href="#s" x="297.08" y="103.93"/><path d="M295.48 103.93h3.2"/><use href="#s" x="297.44" y="104.41"/><path d="M295.84 104.41h3.2"/><use href="#s" x="297.80" y="104.89"/><path d="M296.20 104.89h3.2"/><use href="#s" x="298.16" y="105.38"/><path d="M296.56 105.38h3.2"/><use href="#s" x="298.51" y="105.87"/><path d="M296.91 105.87h3.2"/><use href="#s" x="298.86" y="106.36"/><path d="M297.26 106.36h3.2"/><use href="#s" x="299.21" y="106.86"/><path d="M297.61 106.86h3.2"/><use href="#s" x="299.56" y="107.37"/><path d="M297.96 107.37h3.2"/><use href="#s" x="299.90" y="107.88"/><path d="M298.30 107.88h3.2"/><use href="#s" x="300.24" y="108.39"/><path d="M298.64 108.39h3.2"/><use href="#s" x="300.58" y="108.91"/><path d="M298.98 108.91h3.2"/><use href="#s" x="300.92" y="109.44"/><path d="M299.32 109.44h3.2"/><use href="#s" x="301.25" y="109.97"/><path d="M299.65 109.97h3.2"/><use href="#s" x="301.59" y="110.50"/><path d="M299.99 110.50h3.2"/><use href="#s" x="301.91" y="111.04"/><path d="M300.31 111.04h3.2"/><use href="#s" x="302.24" y="111.59"/><path d="M300.64 111.59h3.2"/><use href="#s" x="302.57" y="112.14"/><path d="M300.97 112.14h3.2"/><use href="#s" x="302.89" y="112.69"/><path d="M301.29 112.69h3.2"/><use href="#s" x="303.21" y="113.25"/><path d="M301.61 113.25h3.2"/><use href="#s" x="303.52" y="113.81"/><path d="M301.92 113.81h3.2"/><use href="#s" x="303.84" y="114.38"/><path d="M302.24 114.38h3.2"/><use href="#s" x="304.15" y="114.96"/><path d="M302.55 114.96h3.2"/><use href="#s" x="304.46" y="115.54"/><path d="M302.86 115.54h3.2"/><use href="#s" x="304.77" y="116.12"/><path d="M303.17 116.12h3.2"/><use href="#s" x="305.08" y="116.71"/><path d="M303.48 116.71h3.2"/><use href="#s" x="305.39" y="117.31"/><path d="M303.79 117.31h3.2"/><use href="#s" x="305.69" y="117.91"/><path d="M304.09 117.91h3.2"/><use href="#s" x="305.99" y="118.51"/><path d="M304.39 118.51h3.2"/><use href="#s" x="306.29" y="119.12"/><path d="M304.69 119.12h3.2"/><use href="#s" x="306.58" y="119.74"/><path d="M304.98 119.74h3.2"/><use href="#s" x="306.88" y="120.36"/><path d="M305.28 120.36h3.2"/><use href="#s" x="307.17" y="120.98"/><path d="M305.57 120.98h3.2"/><use href="#s" x="307.46" y="121.61"/><path d="M305.86 121.61h3.2"/><use href="#s" x="307.75" y="122.25"/><path d="M306.15 122.25h3.2"/><use href="#s" x="308.04" y="122.89"/><path d="M306.44 122.89h3.2"/><use href="#s" x="308.33" y="123.53"/><path d="M306.73 123.53h3.2"/><use href="#s" x="308.61" y="124.18"/><path d="M307.01 124.18h3.2"/><use href="#s" x="308.89" y="124.84"/><path d="M307.29 124.84h3.2"/><use href="#s" x="309.17" y="125.50"/><path d="M307.57 125.50h3.2"/><use href="#s" x="309.45" y="126.17"/><path d="M307.85 126.17h3.2"/><use href="#s" x="309.73" y="126.84"/><path d="M308.13 126.84h3.2"/><use href="#s" x="310.00" y="127.51"/><path d="M308.40 127.51h3.2"/><use href="#s" x="310.28" y="128.20"/><path d="M308.68 128.20h3.2"/><use href="#s" x="310.55" y="128.88"/><path d="M308.95 128.88h3.2"/><use href="#s" x="310.82" y="129.58"/><path d="M309.22 129.58h3.2"/><use href="#s" x="311.09" y="130.27"/><path d="M309.49 130.27h3.2"/><use href="#s" x="311.36" y="130.98"/><path d="M309.76 130.98h3.2"/><use href="#s" x="311.62" y="131.68"/><path d="M310.02 131.68h3.2"/><use href="#s" x="311.89" y="132.40"/><path d="M310.29 132.40h3.2"/><use href="#s" x="312.15" y="133.11"/><path d="M310.55 133.11h3.2"/><use href="#s" x="312.41" y="133.84"/><path d="M310.81 133.84h3.2"/><use href="#s" x="312.67" y="134.57"/><path d="M311.07 134.57h3.2"/><use href="#s" x="312.93" y="135.30"/><path d="M311.33 135.30h3.2"/><use href="#s" x="313.18" y="136.04"/><path d="M311.58 136.04h3.2"/><use href="#s" x="313.44" y="136.79"/><path d="M311.84 136.79h3.2"/><use href="#s" x="313.69" y="137.54"/><path d="M312.09 137.54h3.2"/><use href="#s" x="313.95" y="138.29"/><path d="M312.35 138.29h3.2"/><use href="#s" x="314.20" y="139.31"/><path d="M312.60 139.31h3.2"/><use href="#s" x="314.45" y="140.21"/><path d="M312.85 140.21h3.2"/><use href="#s" x="314.70" y="140.85"/><path d="M313.10 140.85h3.2"/><use href="#s" x="314.94" y="141.72"/><path d="M313.34 141.72h3.2"/><use href="#s" x="315.19" y="141.94"/><path stroke-width="0.4" d="M315.19 141.63V142.40M313.59 141.63h3.2M313.59 142.40h3.2"/><use href="#s" x="315.43" y="142.70"/><path stroke-width="0.4" d="M315.43 142.38V143.17M313.83 142.38h3.2M313.83 143.17h3.2"/><use href="#s" x="315.68" y="144.01"/><path stroke-width="0.4" d="M315.68 143.68V144.50M314.08 143.68h3.2M314.08 144.50h3.2"/><use href="#s" x="315.92" y="144.95"/><path stroke-width="0.4" d="M315.92 144.61V145.46M314.32 144.61h3.2M314.32 145.46h3.2"/><use href="#s" x="316.16" y="145.44"/><path stroke-width="0.4" d="M316.16 145.09V145.96M314.56 145.09h3.2M314.56 145.96h3.2"/><use href="#s" x="316.40" y="145.68"/><path stroke-width="0.4" d="M316.40 145.32V146.22M314.80 145.32h3.2M314.80 146.22h3.2"/><use href="#s" x="316.63" y="147.91"/><path stroke-width="0.4" d="M316.63 147.53V148.47M315.03 147.53h3.2M315.03 148.47h3.2"/><use href="#s" x="316.87" y="147.58"/><path stroke-width="0.4" d="M316.87 147.19V148.16M315.27 147.19h3.2M315.27 148.16h3.2"/><use href="#s" x="317.11" y="148.98"/><path stroke-width="0.4" d="M317.11 148.58V149.59M315.51 148.58h3.2M315.51 149.59h3.2"/><use href="#s" x="317.34" y="149.03"/><path stroke-width="0.4" d="M317.34 148.61V149.65M315.74 148.61h3.2M315.74 149.65h3.2"/><use href="#s" x="317.57" y="150.68"/><path stroke-width="0.4" d="M317.57 150.25V151.32M315.97 150.25h3.2M315.97 151.32h3.2"/><use href="#s" x="317.81" y="151.21"/><path stroke-width="0.4" d="M317.81 150.77V151.88M316.21 150.77h3.2M316.21 151.88h3.2"/><use href="#s" x="318.04" y="152.57"/><path stroke-width="0.4" d="M318.04 152.11V153.27M316.44 152.11h3.2M316.44 153.27h3.2"/><use href="#s" x="318.27" y="153.22"/><path stroke-width="0.4" d="M318.27 152.74V153.93M316.67 152.74h3.2M316.67 153.93h3.2"/><use href="#s" x="318.50" y="153.03"/><path stroke-width="0.4" d="M318.50 152.53V153.77M316.90 152.53h3.2M316.90 153.77h3.2"/><use href="#s" x="318.72" y="154.13"/><path stroke-width="0.4" d="M318.72 153.61V154.90M317.12 153.61h3.2M317.12 154.90h3.2"/><use href="#s" x="318.95" y="155.57"/><path stroke-width="0.4" d="M318.95 155.04V156.37M317.35 155.04h3.2M317.35 156.37h3.2"/><use href="#s" x="319.17" y="156.69"/><path stroke-width="0.4" d="M319.17 156.13V157.51M317.57 156.13h3.2M317.57 157.51h3.2"/><use href="#s" x="319.40" y="158.11"/><path stroke-width="0.4" d="M319.40 157.54V158.97M317.80 157.54h3.2M317.80 158.97h3.2"/><use href="#s" x="319.62" y="158.22"/><path stroke-width="0.4" d="M319.62 157.63V159.11M318.02 157.63h3.2M318.02 159.11h3.2"/><use href="#s" x="319.84" y="158.92"/><path stroke-width="0.4" d="M319.84 158.30V159.84M318.24 158.30h3.2M318.24 159.84h3.2"/><use href="#s" x="320.06" y="159.84"/><path stroke-width="0.4" d="M320.06 159.20V160.80M318.46 159.20h3.2M318.46 160.80h3.2"/><use href="#s" x="320.28" y="160.75"/><path stroke-width="0.4" d="M320.28 160.08V161.74M318.68 160.08h3.2M318.68 161.74h3.2"/><use href="#s" x="320.50" y="162.30"/><path stroke-width="0.4" d="M320.50 161.61V163.33M318.90 161.61h3.2M318.90 163.33h3.2"/><use href="#s" x="320.72" y="162.54"/><path stroke-width="0.4" d="M320.72 161.83V163.62M319.12 161.83h3.2M319.12 163.62h3.2"/><use href="#s" x="320.94" y="163.44"/><path stroke-width="0.4" d="M320.94 162.70V164.56M319.34 162.70h3.2M319.34 164.56h3.2"/><use href="#s" x="321.15" y="163.43"/><path stroke-width="0.4" d="M321.15 162.65V164.59M319.55 162.65h3.2M319.55 164.59h3.2"/><use href="#s" x="321.36" y="163.89"/><path stroke-width="0.4" d="M321.36 163.09V165.10M319.76 163.09h3.2M319.76 165.10h3.2"/><use href="#s" x="321.58" y="166.29"/><path stroke-width="0.4" d="M321.58 165.45V167.54M319.98 165.45h3.2M319.98 167.54h3.2"/><use href="#s" x="321.79" y="167.73"/><path stroke-width="0.4" d="M321.79 166.86V169.03M320.19 166.86h3.2M320.19 169.03h3.2"/><use href="#s" x="322.00" y="168.11"/><path stroke-width="0.4" d="M322.00 167.21V169.47M320.40 167.21h3.2M320.40 169.47h3.2"/><use href="#s" x="322.21" y="169.52"/><path stroke-width="0.4" d="M322.21 168.58V170.93M320.61 168.58h3.2M320.61 170.93h3.2"/><use href="#s" x="322.42" y="170.61"/><path stroke-width="0.4" d="M322.42 169.63V172.08M320.82 169.63h3.2M320.82 172.08h3.2"/><use href="#s" x="322.63" y="170.96"/><path stroke-width="0.4" d="M322.63 169.94V172.49M321.03 169.94h3.2M321.03 172.49h3.2"/><use href="#s" x="322.84" y="172.87"/><path stroke-width="0.4" d="M322.84 171.81V174.46M321.24 171.81h3.2M321.24 174.46h3.2"/><use href="#s" x="323.05" y="172.21"/><path stroke-width="0.4" d="M323.05 171.11V173.87M321.45 171.11h3.2M321.45 173.87h3.2"/><use href="#s" x="323.25" y="173.90"/><path stroke-width="0.4" d="M323.25 172.75V175.62M321.65 172.75h3.2M321.65 175.62h3.2"/><use href="#s" x="323.46" y="174.49"/><path stroke-width="0.4" d="M323.46 173.29V176.28M321.86 173.29h3.2M321.86 176.28h3.2"/><use href="#s" x="323.66" y="175.94"/><path stroke-width="0.4" d="M323.66 174.69V177.81M322.06 174.69h3.2M322.06 177.81h3.2"/><use href="#s" x="323.86" y="177.57"/><path stroke-width="0.4" d="M323.86 176.27V179.52M322.26 176.27h3.2M322.26 179.52h3.2"/><use href="#s" x="324.06" y="178.86"/><path stroke-width="0.4" d="M324.06 177.51V180.89M322.46 177.51h3.2M322.46 180.89h3.2"/><use href="#s" x="324.27" y="178.98"/><path stroke-width="0.4" d="M324.27 177.57V181.10M322.67 177.57h3.2M322.67 181.10h3.2"/><use href="#s" x="324.47" y="180.40"/><path stroke-width="0.4" d="M324.47 178.93V182.61M322.87 178.93h3.2M322.87 182.61h3.2"/><use href="#s" x="324.67" y="180.34"/><path stroke-width="0.4" d="M324.67 178.81V182.62M323.07 178.81h3.2M323.07 182.62h3.2"/><use href="#s" x="324.86" y="181.66"/><path stroke-width="0.4" d="M324.86 180.14V183.95M323.26 180.14h3.2M323.26 183.95h3.2"/><use href="#s" x="325.06" y="184.54"/><path stroke-width="0.4" d="M325.06 183.02V186.82M323.46 183.02h3.2M323.46 186.82h3.2"/><use href="#s" x="325.26" y="183.56"/><path stroke-width="0.4" d="M325.26 182.04V185.84M323.66 182.04h3.2M323.66 185.84h3.2"/><use href="#s" x="325.45" y="186.51"/><path stroke-width="0.4" d="M325.45 184.99V188.80M323.85 184.99h3.2M323.85 188.80h3.2"/><use href="#s" x="325.65" y="186.51"/><path stroke-width="0.4" d="M325.65 184.99V188.80M324.05 184.99h3.2M324.05 188.80h3.2"/><use href="#s" x="325.84" y="187.07"/><path stroke-width="0.4" d="M325.84 185.55V189.35M324.24 185.55h3.2M324.24 189.35h3.2"/><use href="#s" x="326.04" y="190.54"/><path stroke-width="0.4" d="M326.04 189.02V192.82M324.44 189.02h3.2M324.44 192.82h3.2"/><use href="#s" x="326.23" y="188.54"/><path stroke-width="0.4" d="M326.23 187.02V190.83M324.63 187.02h3.2M324.63 190.83h3.2"/><use href="#s" x="326.42" y="189.46"/><path stroke-width="0.4" d="M326.42 187.94V191.75M324.82 187.94h3.2M324.82 191.75h3.2"/><use href="#s" x="326.61" y="190.90"/><path stroke-width="0.4" d="M326.61 189.37V193.18M325.01 189.37h3.2M325.01 193.18h3.2"/><use href="#s" x="326.80" y="192.27"/><path stroke-width="0.4" d="M326.80 190.74V194.55M325.20 190.74h3.2M325.20 194.55h3.2"/><use href="#s" x="326.99" y="193.19"/><path stroke-width="0.4" d="M326.99 191.67V195.48M325.39 191.67h3.2M325.39 195.48h3.2"/><use href="#s" x="327.18" y="195.02"/><path stroke-width="0.4" d="M327.18 193.50V197.30M325.58 193.50h3.2M325.58 197.30h3.2"/><use href="#s" x="327.37" y="195.03"/><path stroke-width="0.4" d="M327.37 193.51V197.32M325.77 193.51h3.2M325.77 197.32h3.2"/><use href="#s" x="327.56" y="196.41"/><path stroke-width="0.4" d="M327.56 194.88V198.69M325.96 194.88h3.2M325.96 198.69h3.2"/><use href="#s" x="327.74" y="196.49"/><path stroke-width="0.4" d="M327.74 194.97V198.78M326.14 194.97h3.2M326.14 198.78h3.2"/><use href="#s" x="327.93" y="199.26"/><path stroke-width="0.4" d="M327.93 197.73V201.54M326.33 197.73h3.2M326.33 201.54h3.2"/><use href="#s" x="328.11" y="198.22"/><path stroke-width="0.4" d="M328.11 196.70V200.50M326.51 196.70h3.2M326.51 200.50h3.2"/><use href="#s" x="328.30" y="199.30"/><path stroke-width="0.4" d="M328.30 197.78V201.58M326.70 197.78h3.2M326.70 201.58h3.2"/><use href="#s" x="328.48" y="200.63"/><path stroke-width="0.4" d="M328.48 199.11V202.92M326.88 199.11h3.2M326.88 202.92h3.2"/><use href="#s" x="328.66" y="201.97"/><path stroke-width="0.4" d="M328.66 200.45V204.26M327.06 200.45h3.2M327.06 204.26h3.2"/><use href="#s" x="328.85" y="201.51"/><path stroke-width="0.4" d="M328.85 199.99V203.79M327.25 199.99h3.2M327.25 203.79h3.2"/><use href="#s" x="329.03" y="205.47"/><path stroke-width="0.4" d="M329.03 203.94V207.75M327.43 203.94h3.2M327.43 207.75h3.2"/><use href="#s" x="329.21" y="203.40"/><path stroke-width="0.4" d="M329.21 201.88V205.68M327.61 201.88h3.2M327.61 205.68h3.2"/><use href="#s" x="329.39" y="204.56"/><path stroke-width="0.4" d="M329.39 203.04V206.84M327.79 203.04h3.2M327.79 206.84h3.2"/><use href="#s" x="329.57" y="205.34"/><path stroke-width="0.4" d="M329.57 203.82V207.63M327.97 203.82h3.2M327.97 207.63h3.2"/><use href="#s" x="329.74" y="206.02"/><path stroke-width="0.4" d="M329.74 204.50V208.30M328.14 204.50h3.2M328.14 208.30h3.2"/><use href="#s" x="329.92" y="208.24"/><path stroke-width="0.4" d="M329.92 206.71V210.52M328.32 206.71h3.2M328.32 210.52h3.2"/><use href="#s" x="330.10" y="208.44"/><path stroke-width="0.4" d="M330.10 206.92V210.73M328.50 206.92h3.2M328.50 210.73h3.2"/><use href="#s" x="330.28" y="207.94"/><path stroke-width="0.4" d="M330.28 206.41V210.22M328.68 206.41h3.2M328.68 210.22h3.2"/><use href="#s" x="330.45" y="208.93"/><path stroke-width="0.4" d="M330.45 207.41V211.22M328.85 207.41h3.2M328.85 211.22h3.2"/><use href="#s" x="330.63" y="209.92"/><path stroke-width="0.4" d="M330.63 208.40V212.21M329.03 208.40h3.2M329.03 212.21h3.2"/><use href="#s" x="330.80" y="212.95"/><path stroke-width="0.4" d="M330.80 211.43V215.23M329.20 211.43h3.2M329.20 215.23h3.2"/><use href="#s" x="330.97" y="209.84"/><path stroke-width="0.4" d="M330.97 208.31V212.12M329.37 208.31h3.2M329.37 212.12h3.2"/><use href="#s" x="331.15" y="211.70"/><path stroke-width="0.4" d="M331.15 203.18V224.48M329.55 203.18h3.2M329.55 224.48h3.2"/><use href="#s" x="331.32" y="212.77"/><path stroke-width="0.4" d="M331.32 211.25V215.06M329.72 211.25h3.2M329.72 215.06h3.2"/><use href="#s" x="331.49" y="212.57"/><path stroke-width="0.4" d="M331.49 211.04V214.85M329.89 211.04h3.2M329.89 214.85h3.2"/><use href="#s" x="331.66" y="215.37"/><path stroke-width="0.4" d="M331.66 213.85V217.66M330.06 213.85h3.2M330.06 217.66h3.2"/><use href="#s" x="331.83" y="212.26"/><path stroke-width="0.4" d="M331.83 210.74V214.55M330.23 210.74h3.2M330.23 214.55h3.2"/><use href="#s" x="332.00" y="214.06"/><path stroke-width="0.4" d="M332.00 212.53V216.34M330.40 212.53h3.2M330.40 216.34h3.2"/><use href="#s" x="332.17" y="212.60"/><path stroke-width="0.4" d="M332.17 211.08V214.89M330.57 211.08h3.2M330.57 214.89h3.2"/><use href="#s" x="332.34" y="215.50"/><path stroke-width="0.4" d="M332.34 213.97V217.78M330.74 213.97h3.2M330.74 217.78h3.2"/><use href="#s" x="332.51" y="216.46"/><path stroke-width="0.4" d="M332.51 214.93V218.74M330.91 214.93h3.2M330.91 218.74h3.2"/><use href="#s" x="332.67" y="215.25"/><path stroke-width="0.4" d="M332.67 213.73V217.54M331.07 213.73h3.2M331.07 217.54h3.2"/><use href="#s" x="332.84" y="214.70"/><path stroke-width="0.4" d="M332.84 207.64V225.28M331.24 207.64h3.2M331.24 225.28h3.2"/><use href="#s" x="333.01" y="215.30"/><path stroke-width="0.4" d="M333.01 213.78V217.59M331.41 213.78h3.2M331.41 217.59h3.2"/><use href="#s" x="333.17" y="215.05"/><path stroke-width="0.4" d="M333.17 213.53V217.34M331.57 213.53h3.2M331.57 217.34h3.2"/><use href="#s" x="333.34" y="217.17"/><path stroke-width="0.4" d="M333.34 215.64V219.45M331.74 215.64h3.2M331.74 219.45h3.2"/><use href="#s" x="333.50" y="218.31"/><path stroke-width="0.4" d="M333.50 216.79V220.60M331.90 216.79h3.2M331.90 220.60h3.2"/><use href="#s" x="333.67" y="216.29"/><path stroke-width="0.4" d="M333.67 204.00V228.50M332.07 204.00h3.2M332.07 228.50h3.2"/><use href="#s" x="333.83" y="219.60"/><path stroke-width="0.4" d="M333.83 218.08V221.88M332.23 218.08h3.2M332.23 221.88h3.2"/><use href="#s" x="333.99" y="218.21"/><path stroke-width="0.4" d="M333.99 216.69V220.49M332.39 216.69h3.2M332.39 220.49h3.2"/><use href="#s" x="334.15" y="220.61"/><path stroke-width="0.4" d="M334.15 219.09V222.90M332.55 219.09h3.2M332.55 222.90h3.2"/><use href="#s" x="334.31" y="216.35"/><path stroke-width="0.4" d="M334.31 214.83V218.64M332.71 214.83h3.2M332.71 218.64h3.2"/><use href="#s" x="334.48" y="218.53"/><path stroke-width="0.4" d="M334.48 217.00V220.81M332.88 217.00h3.2M332.88 220.81h3.2"/><use href="#s" x="334.64" y="216.74"/><path stroke-width="0.4" d="M334.64 206.61V228.50M333.04 206.61h3.2M333.04 228.50h3.2"/><use href="#s" x="334.79" y="217.11"/><path stroke-width="0.4" d="M334.79 215.59V219.39M333.19 215.59h3.2M333.19 219.39h3.2"/><use href="#s" x="334.95" y="215.57"/><path stroke-width="0.4" d="M334.95 207.38V227.86M333.35 207.38h3.2M333.35 227.86h3.2"/><use href="#s" x="335.11" y="217.56"/><path stroke-width="0.4" d="M335.11 216.04V219.85M333.51 216.04h3.2M333.51 219.85h3.2"/><use href="#s" x="335.27" y="218.78"/><path stroke-width="0.4" d="M335.27 217.26V221.06M333.67 217.26h3.2M333.67 221.06h3.2"/><use href="#s" x="335.43" y="216.82"/><path stroke-width="0.4" d="M335.43 215.30V219.11M333.83 215.30h3.2M333.83 219.11h3.2"/><use href="#s" x="335.58" y="218.34"/><path stroke-width="0.4" d="M335.58 216.82V220.63M333.98 216.82h3.2M333.98 220.63h3.2"/><use href="#s" x="335.74" y="217.88"/><path stroke-width="0.4" d="M335.74 216.36V220.17M334.14 216.36h3.2M334.14 220.17h3.2"/><use href="#s" x="335.90" y="218.23"/><path stroke-width="0.4" d="M335.90 216.71V220.52M334.30 216.71h3.2M334.30 220.52h3.2"/><use href="#s" x="336.05" y="219.56"/><path stroke-width="0.4" d="M336.05 218.03V221.84M334.45 218.03h3.2M334.45 221.84h3.2"/></g>
<g stroke="#ff00ff" fill="none" stroke-width="0.6"><use href="#b" x="108.74" y="68.90"/><path d="M107.14 68.90h3.2"/><use href="#b" x="121.85" y="64.01"/><path d="M120.25 64.01h3.2"/><use href="#b" x="132.02" y="61.54"/><path d="M130.42 61.54h3.2"/><use href="#b" x="140.33" y="60.34"/><path d="M138.73 60.34h3.2"/><use href="#b" x="147.35" y="59.90"/><path d="M145.75 59.90h3.2"/><use href="#b" x="153.44" y="59.75"/><path d="M151.84 59.75h3.2"/><use href="#b" x="158.81" y="60.00"/><path d="M157.21 60.00h3.2"/><use href="#b" x="163.61" y="60.29"/><path d="M162.01 60.29h3.2"/><use href="#b" x="167.95" y="60.67"/><path d="M166.35 60.67h3.2"/><use href="#b" x="171.92" y="61.18"/><path d="M170.32 61.18h3.2"/><use href="#b" x="175.56" y="61.75"/><path d="M173.96 61.75h3.2"/><use href="#b" x="178.94" y="62.42"/><path d="M177.34 62.42h3.2"/><use href="#b" x="182.09" y="63.15"/><path d="M180.49 63.15h3.2"/><use href="#b" x="185.03" y="63.89"/><path d="M183.43 63.89h3.2"/><use href="#b" x="187.79" y="64.68"/><path d="M186.19 64.68h3.2"/><use href="#b" x="190.39" y="65.66"/><path d="M188.79 65.66h3.2"/><use href="#b" x="192.86" y="66.82"/><path d="M191.26 66.82h3.2"/><use href="#b" x="195.20" y="67.82"/><path d="M193.60 67.82h3.2"/><use href="#b" x="197.42" y="68.65"/><path d="M195.82 68.65h3.2"/><use href="#b" x="199.54" y="69.43"/><path d="M197.94 69.43h3.2"/><use href="#b" x="201.57" y="70.18"/><path d="M199.97 70.18h3.2"/><use href="#b" x="203.50" y="70.90"/><path d="M201.90 70.90h3.2"/><use href="#b" x="205.36" y="71.58"/><path d="M203.76 71.58h3.2"/><use href="#b" x="207.15" y="72.22"/><path d="M205.55 72.22h3.2"/><use href="#b" x="208.87" y="72.83"/><path d="M207.27 72.83h3.2"/><use href="#b" x="210.53" y="73.42"/><path d="M208.93 73.42h3.2"/><use href="#b" x="212.13" y="73.97"/><path d="M210.53 73.97h3.2"/><use href="#b" x="213.67" y="74.52"/><path d="M212.07 74.52h3.2"/><use href="#b" x="215.17" y="75.05"/><path d="M213.57 75.05h3.2"/><use href="#b" x="216.61" y="75.57"/><path d="M215.01 75.57h3.2"/><use href="#b" x="218.02" y="76.09"/><path d="M216.42 76.09h3.2"/><use href="#b" x="219.38" y="76.62"/><path d="M217.78 76.62h3.2"/><use href="#b" x="220.70" y="77.16"/><path d="M219.10 77.16h3.2"/><use href="#b" x="221.98" y="77.68"/><path d="M220.38 77.68h3.2"/><use href="#b" x="223.23" y="78.19"/><path d="M221.63 78.19h3.2"/><use href="#b" x="224.45" y="78.69"/><path d="M222.85 78.69h3.2"/><use href="#b" x="225.63" y="79.16"/><path d="M224.03 79.16h3.2"/><use href="#b" x="226.78" y="79.60"/><path d="M225.18 79.60h3.2"/><use href="#b" x="227.91" y="80.01"/><path d="M226.31 80.01h3.2"/><use href="#b" x="229.01" y="80.39"/><path d="M227.41 80.39h3.2"/><use href="#b" x="230.08" y="80.74"/><path d="M228.48 80.74h3.2"/><use href="#b" x="231.13" y="81.07"/><path d="M229.53 81.07h3.2"/><use href="#b" x="232.15" y="81.39"/><path d="M230.55 81.39h3.2"/><use href="#b" x="233.15" y="81.70"/><path d="M231.55 81.70h3.2"/><use href="#b" x="234.13" y="81.99"/><path d="M232.53 81.99h3.2"/><use href="#b" x="235.09" y="82.27"/><path d="M233.49 82.27h3.2"/><use href="#b" x="236.03" y="82.53"/><path d="M234.43 82.53h3.2"/><use href="#b" x="236.95" y="82.78"/><path d="M235.35 82.78h3.2"/><use href="#b" x="237.85" y="83.03"/><path d="M236.25 83.03h3.2"/><use href="#b" x="238.74" y="83.26"/><path d="M237.14 83.26h3.2"/><use href="#b" x="239.61" y="83.48"/><path d="M238.01 83.48h3.2"/><use href="#b" x="240.46" y="83.70"/><path d="M238.86 83.70h3.2"/><use href="#b" x="241.30" y="83.90"/><path d="M239.70 83.90h3.2"/><use href="#b" x="242.12" y="84.10"/><path d="M240.52 84.10h3.2"/><use href="#b" x="242.92" y="84.29"/><path d="M241.32 84.29h3.2"/><use href="#b" x="243.72" y="84.47"/><path d="M242.12 84.47h3.2"/><use href="#b" x="244.50" y="84.64"/><path d="M242.90 84.64h3.2"/><use href="#b" x="245.26" y="84.80"/><path d="M243.66 84.80h3.2"/><use href="#b" x="246.01" y="84.95"/><path d="M244.41 84.95h3.2"/><use href="#b" x="246.76" y="85.10"/><path d="M245.16 85.10h3.2"/><use href="#b" x="247.48" y="85.23"/><path d="M245.88 85.23h3.2"/><use href="#b" x="248.20" y="85.36"/><path d="M246.60 85.36h3.2"/><use href="#b" x="248.91" y="85.48"/><path d="M247.31 85.48h3.2"/><use href="#b" x="249.60" y="85.60"/><path d="M248.00 85.60h3.2"/><use href="#b" x="250.29" y="85.71"/><path d="M248.69 85.71h3.2"/><use href="#b" x="250.97" y="85.82"/><path d="M249.37 85.82h3.2"/><use href="#b" x="251.63" y="85.93"/><path d="M250.03 85.93h3.2"/><use href="#b" x="252.29" y="86.03"/><path d="M250.69 86.03h3.2"/><use href="#b" x="252.93" y="86.13"/><path d="M251.33 86.13h3.2"/><use href="#b" x="253.57" y="86.22"/><path d="M251.97 86.22h3.2"/><use href="#b" x="254.20" y="86.32"/><path d="M252.60 86.32h3.2"/><use href="#b" x="254.82" y="86.41"/><path d="M253.22 86.41h3.2"/><use href="#b" x="255.43" y="86.50"/><path d="M253.83 86.50h3.2"/><use href="#b" x="256.03" y="86.59"/><path d="M254.43 86.59h3.2"/><use href="#b" x="256.63" y="86.67"/><path d="M255.03 86.67h3.2"/><use href="#b" x="257.22" y="86.76"/><path d="M255.62 86.76h3.2"/><use href="#b" x="257.80" y="86.84"/><path d="M256.20 86.84h3.2"/><use href="#b" x="258.37" y="86.92"/><path d="M256.77 86.92h3.2"/><use href="#b" x="258.94" y="87.00"/><path d="M257.34 87.00h3.2"/><use href="#b" x="259.50" y="87.07"/><path d="M257.90 87.07h3.2"/><use href="#b" x="260.05" y="87.15"/><path d="M258.45 87.15h3.2"/><use href="#b" x="260.59" y="87.21"/><path d="M258.99 87.21h3.2"/><use href="#b" x="261.13" y="87.28"/><path d="M259.53 87.28h3.2"/><use href="#b" x="261.67" y="87.35"/><path d="M260.07 87.35h3.2"/><use href="#b" x="262.19" y="87.41"/><path d="M260.59 87.41h3.2"/><use href="#b" x="262.71" y="87.48"/><path d="M261.11 87.48h3.2"/><use href="#b" x="263.23" y="87.54"/><path d="M261.63 87.54h3.2"/><use href="#b" x="263.74" y="87.60"/><path d="M262.14 87.60h3.2"/><use href="#b" x="264.24" y="87.67"/><path d="M262.64 87.67h3.2"/><use href="#b" x="264.74" y="87.73"/><path d="M263.14 87.73h3.2"/><use href="#b" x="265.23" y="87.79"/><path d="M263.63 87.79h3.2"/><use href="#b" x="265.72" y="87.86"/><path d="M264.12 87.86h3.2"/><use href="#b" x="266.20" y="87.92"/><path d="M264.60 87.92h3.2"/><use href="#b" x="266.68" y="87.99"/><path d="M265.08 87.99h3.2"/><use href="#b" x="267.15" y="88.06"/><path d="M265.55 88.06h3.2"/><use href="#b" x="267.62" y="88.12"/><path d="M266.02 88.12h3.2"/><use href="#b" x="268.08" y="88.19"/><path d="M266.48 88.19h3.2"/><use href="#b" x="268.54" y="88.27"/><path d="M266.94 88.27h3.2"/><use href="#b" x="268.99" y="88.34"/><path d="M267.39 88.34h3.2"/><use href="#b" x="269.44" y="88.42"/><path d="M267.84 88.42h3.2"/><use href="#b" x="269.89" y="88.49"/><path d="M268.29 88.49h3.2"/><use href="#b" x="270.33" y="88.57"/><path d="M268.73 88.57h3.2"/><use href="#b" x="270.76" y="88.65"/><path d="M269.16 88.65h3.2"/><use href="#b" x="271.20" y="88.73"/><path d="M269.60 88.73h3.2"/><use href="#b" x="271.62" y="88.82"/><path d="M270.02 88.82h3.2"/><use href="#b" x="272.05" y="88.90"/><path d="M270.45 88.90h3.2"/><use href="#b" x="272.47" y="88.99"/><path d="M270.87 88.99h3.2"/><use href="#b" x="272.88" y="89.07"/><path d="M271.28 89.07h3.2"/><use href="#b" x="273.30" y="89.16"/><path d="M271.70 89.16h3.2"/><use href="#b" x="273.70" y="89.24"/><path d="M272.10 89.24h3.2"/><use href="#b" x="274.11" y="89.33"/><path d="M272.51 89.33h3.2"/><use href="#b" x="274.51" y="89.42"/><path d="M272.91 89.42h3.2"/><use href="#b" x="274.91" y="89.50"/><path d="M273.31 89.50h3.2"/><use href="#b" x="275.30" y="89.59"/><path d="M273.70 89.59h3.2"/><use href="#b" x="275.70" y="89.68"/><path d="M274.10 89.68h3.2"/><use href="#b" x="276.08" y="89.76"/><path d="M274.48 89.76h3.2"/><use href="#b" x="276.47" y="89.85"/><path d="M274.87 89.85h3.2"/><use href="#b" x="276.85" y="89.93"/><path d="M275.25 89.93h3.2"/><use href="#b" x="277.23" y="90.01"/><path d="M275.63 90.01h3.2"/><use href="#b" x="277.60" y="90.09"/><path d="M276.00 90.09h3.2"/><use href="#b" x="277.97" y="90.17"/><path d="M276.37 90.17h3.2"/><use href="#b" x="278.34" y="90.25"/><path d="M276.74 90.25h3.2"/><use href="#b" x="278.71" y="90.33"/><path d="M277.11 90.33h3.2"/><use href="#b" x="279.07" y="90.41"/><path d="M277.47 90.41h3.2"/><use href="#b" x="279.43" y="90.49"/><path d="M277.83 90.49h3.2"/><use href="#b" x="279.79" y="90.57"/><path d="M278.19 90.57h3.2"/><use href="#b" x="280.14" y="90.66"/><path d="M278.54 90.66h3.2"/><use href="#b" x="280.50" y="90.75"/><path d="M278.90 90.75h3.2"/><use href="#b" x="280.85" y="90.84"/><path d="M279.25 90.84h3.2"/><use href="#b" x="281.19" y="90.93"/><path d="M279.59 90.93h3.2"/><use href="#b" x="281.54" y="91.03"/><path d="M279.94 91.03h3.2"/><use href="#b" x="281.88" y="91.13"/><path d="M280.28 91.13h3.2"/><use href="#b" x="282.22" y="91.24"/><path d="M280.62 91.24h3.2"/><use href="#b" x="282.55" y="91.34"/><path d="M280.95 91.34h3.2"/><use href="#b" x="282.89" y="91.46"/><path d="M281.29 91.46h3.2"/><use href="#b" x="283.22" y="91.58"/><path d="M281.62 91.58h3.2"/><use href="#b" x="283.55" y="91.71"/><path d="M281.95 91.71h3.2"/><use href="#b" x="283.87" y="91.85"/><path d="M282.27 91.85h3.2"/><use href="#b" x="284.20" y="92.00"/><path d="M282.60 92.00h3.2"/><use href="#b" x="284.52" y="92.16"/><path d="M282.92 92.16h3.2"/><use href="#b" x="284.84" y="92.32"/><path d="M283.24 92.32h3.2"/><use href="#b" x="285.16" y="92.50"/><path d="M283.56 92.50h3.2"/><use href="#b" x="285.47" y="92.67"/><path d="M283.87 92.67h3.2"/><use href="#b" x="285.79" y="92.86"/><path d="M284.19 92.86h3.2"/><use href="#b" x="286.10" y="93.05"/><path d="M284.50 93.05h3.2"/><use href="#b" x="286.41" y="93.25"/><path d="M284.81 93.25h3.2"/><use href="#b" x="286.71" y="93.45"/><path d="M285.11 93.45h3.2"/><use href="#b" x="287.02" y="93.65"/><path d="M285.42 93.65h3.2"/><use href="#b" x="287.32" y="93.86"/><path d="M285.72 93.86h3.2"/><use href="#b" x="287.62" y="94.07"/><path d="M286.02 94.07h3.2"/><use href="#b" x="287.92" y="94.29"/><path d="M286.32 94.29h3.2"/><use href="#b" x="288.22" y="94.51"/><path d="M286.62 94.51h3.2"/><use href="#b" x="288.51" y="94.73"/><path d="M286.91 94.73h3.2"/><use href="#b" x="288.81" y="94.95"/><path d="M287.21 94.95h3.2"/><use href="#b" x="289.10" y="95.18"/><path d="M287.50 95.18h3.2"/><use href="#b" x="289.39" y="95.40"/><path d="M287.79 95.40h3.2"/><use href="#b" x="289.67" y="95.63"/><path d="M288.07 95.63h3.2"/><use href="#b" x="289.96" y="95.86"/><path d="M288.36 95.86h3.2"/><use href="#b" x="290.24" y="96.08"/><path d="M288.64 96.08h3.2"/><use href="#b" x="290.53" y="96.31"/><path d="M288.93 96.31h3.2"/><use href="#b" x="290.81" y="96.54"/><path d="M289.21 96.54h3.2"/><use href="#b" x="291.08" y="96.77"/><path d="M289.48 96.77h3.2"/><use href="#b" x="291.36" y="97.02"/><path d="M289.76 97.02h3.2"/><use href="#b" x="291.64" y="97.30"/><path d="M290.04 97.30h3.2"/><use href="#b" x="291.91" y="97.57"/><path d="M290.31 97.57h3.2"/><use href="#b" x="292.18" y="97.84"/><path d="M290.58 97.84h3.2"/><use href="#b" x="292.45" y="98.11"/><path d="M290.85 98.11h3.2"/><use href="#b" x="292.72" y="98.39"/><path d="M291.12 98.39h3.2"/><use href="#b" x="292.99" y="98.66"/><path d="M291.39 98.66h3.2"/><use href="#b" x="293.25" y="98.94"/><path d="M291.65 98.94h3.2"/><use href="#b" x="293.52" y="99.22"/><path d="M291.92 99.22h3.2"/><use href="#b" x="293.78" y="99.50"/><path d="M292.18 99.50h3.2"/><use href="#b" x="294.04" y="99.78"/><path d="M292.44 99.78h3.2"/><use href="#b" x="294.30" y="100.07"/><path d="M292.70 100.07h3.2"/><use href="#b" x="294.56" y="100.36"/><path d="M292.96 100.36h3.2"/><use href="#b" x="294.82" y="100.65"/><path d="M293.22 100.65h3.2"/><use href="#b" x="295.07" y="100.94"/><path d="M293.47 100.94h3.2"/><use href="#b" x="295.33" y="101.23"/><path d="M293.73 101.23h3.2"/><use href="#b" x="295.58" y="101.53"/><path d="M293.98 101.53h3.2"/><use href="#b" x="295.83" y="101.83"/><path d="M294.23 101.83h3.2"/><use href="#b" x="296.08" y="102.13"/><path d="M294.48 102.13h3.2"/><use href="#b" x="296.33" y="102.43"/><path d="M294.73 102.43h3.2"/><use href="#b" x="296.58" y="102.73"/><path d="M294.98 102.73h3.2"/><use href="#b" x="296.82" y="103.04"/><path d="M295.22 103.04h3.2"/><use href="#b" x="297.07" y="103.35"/><path d="M295.47 103.35h3.2"/><use href="#b" x="297.31" y="103.66"/><path d="M295.71 103.66h3.2"/><use href="#b" x="297.55" y="103.97"/><path d="M295.95 103.97h3.2"/><use href="#b" x="297.79" y="104.28"/><path d="M296.19 104.28h3.2"/><use href="#b" x="298.03" y="104.60"/><path d="M296.43 104.60h3.2"/><use href="#b" x="298.27" y="104.92"/><path d="M296.67 104.92h3.2"/><use href="#b" x="298.50" y="105.24"/><path d="M296.90 105.24h3.2"/><use href="#b" x="298.74" y="105.57"/><path d="M297.14 105.57h3.2"/><use href="#b" x="298.97" y="105.89"/><path d="M297.37 105.89h3.2"/><use href="#b" x="299.21" y="106.22"/><path d="M297.61 106.22h3.2"/><use href="#b" x="299.44" y="106.55"/><path d="M297.84 106.55h3.2"/><use href="#b" x="299.67" y="106.88"/><path d="M298.07 106.88h3.2"/><use href="#b" x="299.90" y="107.21"/><path d="M298.30 107.21h3.2"/><use href="#b" x="300.13" y="107.55"/><path d="M298.53 107.55h3.2"/><use href="#b" x="300.36" y="107.89"/><path d="M298.76 107.89h3.2"/><use href="#b" x="300.58" y="108.23"/><path d="M298.98 108.23h3.2"/><use href="#b" x="300.81" y="108.57"/><path d="M299.21 108.57h3.2"/><use href="#b" x="301.03" y="108.91"/><path d="M299.43 108.91h3.2"/><use href="#b" x="301.25" y="109.26"/><path d="M299.65 109.26h3.2"/><use href="#b" x="301.48" y="109.61"/><path d="M299.88 109.61h3.2"/><use href="#b" x="301.70" y="109.96"/><path d="M300.10 109.96h3.2"/><use href="#b" x="301.92" y="110.32"/><path d="M300.32 110.32h3.2"/><use href="#b" x="302.13" y="110.67"/><path d="M300.53 110.67h3.2"/><use href="#b" x="302.35" y="111.03"/><path d="M300.75 111.03h3.2"/><use href="#b" x="302.57" y="111.39"/><path d="M300.97 111.39h3.2"/><use href="#b" x="302.78" y="111.75"/><path d="M301.18 111.75h3.2"/><use href="#b" x="303.00" y="112.11"/><path d="M301.40 112.11h3.2"/><use href="#b" x="303.21" y="112.48"/><path d="M301.61 112.48h3.2"/><use href="#b" x="303.42" y="112.85"/><path d="M301.82 112.85h3.2"/><use href="#b" x="303.64" y="113.22"/><path d="M302.04 113.22h3.2"/><use href="#b" x="303.85" y="113.59"/><path d="M302.25 113.59h3.2"/><use href="#b" x="304.06" y="113.97"/><path d="M302.46 113.97h3.2"/><use href="#b" x="304.26" y="114.34"/><path d="M302.66 114.34h3.2"/><use href="#b" x="304.47" y="114.72"/><path d="M302.87 114.72h3.2"/><use href="#b" x="304.68" y="115.11"/><path d="M303.08 115.11h3.2"/><use href="#b" x="304.88" y="115.49"/><path d="M303.28 115.49h3.2"/><use href="#b" x="305.09" y="115.88"/><path d="M303.49 115.88h3.2"/><use href="#b" x="305.29" y="116.26"/><path d="M303.69 116.26h3.2"/><use href="#b" x="305.50" y="116.65"/><path d="M303.90 116.65h3.2"/><use href="#b" x="305.70" y="117.05"/><path d="M304.10 117.05h3.2"/><use href="#b" x="305.90" y="117.44"/><path d="M304.30 117.44h3.2"/><use href="#b" x="306.10" y="117.84"/><path d="M304.50 117.84h3.2"/><use href="#b" x="306.30" y="118.24"/><path d="M304.70 118.24h3.2"/><use href="#b" x="306.50" y="118.64"/><path d="M304.90 118.64h3.2"/><use href="#b" x="306.69" y="119.04"/><path d="M305.09 119.04h3.2"/><use href="#b" x="306.89" y="119.45"/><path d="M305.29 119.45h3.2"/><use href="#b" x="307.09" y="119.86"/><path d="M305.49 119.86h3.2"/><use href="#b" x="307.28" y="120.27"/><path d="M305.68 120.27h3.2"/><use href="#b" x="307.48" y="120.68"/><path d="M305.88 120.68h3.2"/><use href="#b" x="307.67" y="121.10"/><path d="M306.07 121.10h3.2"/><use href="#b" x="307.86" y="121.51"/><path d="M306.26 121.51h3.2"/><use href="#b" x="308.06" y="121.93"/><path d="M306.46 121.93h3.2"/><use href="#b" x="308.25" y="122.35"/><path d="M306.65 122.35h3.2"/><use href="#b" x="308.44" y="122.78"/><path d="M306.84 122.78h3.2"/><use href="#b" x="308.63" y="123.20"/><path d="M307.03 123.20h3.2"/><use href="#b" x="308.81" y="123.63"/><path d="M307.21 123.63h3.2"/><use href="#b" x="309.00" y="124.06"/><path d="M307.40 124.06h3.2"/><use href="#b" x="309.19" y="124.50"/><path d="M307.59 124.50h3.2"/><use href="#b" x="309.38" y="124.93"/><path d="M307.78 124.93h3.2"/><use href="#b" x="309.56" y="125.37"/><path d="M307.96 125.37h3.2"/><use href="#b" x="309.75" y="125.81"/><path d="M308.15 125.81h3.2"/><use href="#b" x="309.93" y="126.25"/><path d="M308.33 126.25h3.2"/><use href="#b" x="310.11" y="126.69"/><path d="M308.51 126.69h3.2"/><use href="#b" x="310.30" y="127.14"/><path d="M308.70 127.14h3.2"/><use href="#b" x="310.48" y="127.59"/><path d="M308.88 127.59h3.2"/><use href="#b" x="310.66" y="128.04"/><path d="M309.06 128.04h3.2"/><use href="#b" x="310.84" y="128.49"/><path d="M309.24 128.49h3.2"/><use href="#b" x="311.02" y="128.95"/><path d="M309.42 128.95h3.2"/><use href="#b" x="311.20" y="129.41"/><path d="M309.60 129.41h3.2"/><use href="#b" x="311.38" y="129.87"/><path d="M309.78 129.87h3.2"/><use href="#b" x="311.56" y="130.33"/><path d="M309.96 130.33h3.2"/><use href="#b" x="311.73" y="130.79"/><path d="M310.13 130.79h3.2"/><use href="#b" x="311.91" y="131.26"/><path d="M310.31 131.26h3.2"/><use href="#b" x="312.08" y="131.73"/><path d="M310.48 131.73h3.2"/><use href="#b" x="312.26" y="132.20"/><path d="M310.66 132.20h3.2"/><use href="#b" x="312.43" y="132.68"/><path d="M310.83 132.68h3.2"/><use href="#b" x="312.61" y="133.15"/><path d="M311.01 133.15h3.2"/><use href="#b" x="312.78" y="133.63"/><path d="M311.18 133.63h3.2"/><use href="#b" x="312.95" y="134.11"/><path d="M311.35 134.11h3.2"/><use href="#b" x="313.12" y="134.59"/><path d="M311.52 134.59h3.2"/><use href="#b" x="313.29" y="135.08"/><path d="M311.69 135.08h3.2"/><use href="#b" x="313.47" y="135.57"/><path d="M311.87 135.57h3.2"/><use href="#b" x="313.64" y="136.06"/><path d="M312.04 136.06h3.2"/><use href="#b" x="313.80" y="136.55"/><path d="M312.20 136.55h3.2"/><use href="#b" x="313.97" y="137.04"/><path d="M312.37 137.04h3.2"/><use href="#b" x="314.14" y="137.52"/><path d="M312.54 137.52h3.2"/><use href="#b" x="314.31" y="138.02"/><path d="M312.71 138.02h3.2"/><use href="#b" x="314.47" y="138.24"/><path d="M312.87 138.24h3.2"/><use href="#b" x="314.64" y="139.31"/><path d="M313.04 139.31h3.2"/><use href="#b" x="314.81" y="139.33"/><path d="M313.21 139.33h3.2"/><use href="#b" x="314.97" y="140.07"/><path d="M313.37 140.07h3.2"/><use href="#b" x="315.13" y="140.27"/><path d="M313.53 140.27h3.2"/><use href="#b" x="315.30" y="141.04"/><path d="M313.70 141.04h3.2"/><use href="#b" x="315.46" y="141.75"/><path d="M313.86 141.75h3.2"/><use href="#b" x="315.62" y="142.05"/><path d="M314.02 142.05h3.2"/><use href="#b" x="315.79" y="142.46"/><path d="M314.19 142.46h3.2"/><use href="#b" x="315.95" y="143.15"/><path d="M314.35 143.15h3.2"/><use href="#b" x="316.11" y="143.56"/><path d="M314.51 143.56h3.2"/><use href="#b" x="316.27" y="144.34"/><path d="M314.67 144.34h3.2"/><use href="#b" x="316.43" y="145.29"/><path d="M314.83 145.29h3.2"/><use href="#b" x="316.59" y="145.04"/><path d="M314.99 145.04h3.2"/><use href="#b" x="316.75" y="145.62"/><path d="M315.15 145.62h3.2"/><use href="#b" x="316.90" y="146.30"/><path stroke-width="0.4" d="M316.90 146.00V146.76M315.30 146.00h3.2M315.30 146.76h3.2"/><use href="#b" x="317.06" y="146.86"/><path stroke-width="0.4" d="M317.06 146.55V147.33M315.46 146.55h3.2M315.46 147.33h3.2"/><use href="#b" x="317.22" y="147.12"/><path stroke-width="0.4" d="M317.22 146.81V147.60M315.62 146.81h3.2M315.62 147.60h3.2"/><use href="#b" x="317.37" y="148.10"/><path stroke-width="0.4" d="M317.37 147.78V148.59M315.77 147.78h3.2M315.77 148.59h3.2"/><use href="#b" x="317.53" y="148.73"/><path stroke-width="0.4" d="M317.53 148.39V149.22M315.93 148.39h3.2M315.93 149.22h3.2"/><use href="#b" x="317.68" y="149.12"/><path stroke-width="0.4" d="M317.68 148.78V149.63M316.08 148.78h3.2M316.08 149.63h3.2"/><use href="#b" x="317.84" y="149.23"/><path stroke-width="0.4" d="M317.84 148.89V149.76M316.24 148.89h3.2M316.24 149.76h3.2"/><use href="#b" x="317.99" y="150.61"/><path stroke-width="0.4" d="M317.99 150.26V151.15M316.39 150.26h3.2M316.39 151.15h3.2"/><use href="#b" x="318.15" y="150.32"/><path stroke-width="0.4" d="M318.15 149.96V150.87M316.55 149.96h3.2M316.55 150.87h3.2"/><use href="#b" x="318.30" y="151.49"/><path stroke-width="0.4" d="M318.30 151.12V152.05M316.70 151.12h3.2M316.70 152.05h3.2"/><use href="#b" x="318.45" y="152.22"/><path stroke-width="0.4" d="M318.45 151.84V152.79M316.85 151.84h3.2M316.85 152.79h3.2"/><use href="#b" x="318.61" y="151.95"/><path stroke-width="0.4" d="M318.61 151.56V152.54M317.01 151.56h3.2M317.01 152.54h3.2"/><use href="#b" x="318.76" y="153.00"/><path stroke-width="0.4" d="M318.76 152.60V153.60M317.16 152.60h3.2M317.16 153.60h3.2"/><use href="#b" x="318.91" y="154.02"/><path stroke-width="0.4" d="M318.91 153.60V154.63M317.31 153.60h3.2M317.31 154.63h3.2"/><use href="#b" x="319.06" y="154.24"/><path stroke-width="0.4" d="M319.06 153.81V154.87M317.46 153.81h3.2M317.46 154.87h3.2"/><use href="#b" x="319.21" y="154.30"/><path stroke-width="0.4" d="M319.21 153.87V154.95M317.61 153.87h3.2M317.61 154.95h3.2"/><use href="#b" x="319.36" y="154.76"/><path stroke-width="0.4" d="M319.36 154.32V155.43M317.76 154.32h3.2M317.76 155.43h3.2"/><use href="#b" x="319.51" y="156.00"/><path stroke-width="0.4" d="M319.51 155.54V156.68M317.91 155.54h3.2M317.91 156.68h3.2"/><use href="#b" x="319.66" y="156.23"/><path stroke-width="0.4" d="M319.66 155.76V156.92M318.06 155.76h3.2M318.06 156.92h3.2"/><use href="#b" x="319.80" y="156.67"/><path stroke-width="0.4" d="M319.80 156.19V157.38M318.20 156.19h3.2M318.20 157.38h3.2"/><use href="#b" x="319.95" y="157.85"/><path stroke-width="0.4" d="M319.95 157.36V158.58M318.35 157.36h3.2M318.35 158.58h3.2"/><use href="#b" x="320.10" y="157.98"/><path stroke-width="0.4" d="M320.10 157.48V158.74M318.50 157.48h3.2M318.50 158.74h3.2"/><use href="#b" x="320.25" y="158.75"/><path stroke-width="0.4" d="M320.25 158.24V159.52M318.65 158.24h3.2M318.65 159.52h3.2"/><use href="#b" x="320.39" y="159.58"/><path stroke-width="0.4" d="M320.39 159.05V160.37M318.79 159.05h3.2M318.79 160.37h3.2"/><use href="#b" x="320.54" y="160.16"/><path stroke-width="0.4" d="M320.54 159.62V160.97M318.94 159.62h3.2M318.94 160.97h3.2"/><use href="#b" x="320.68" y="160.48"/><path stroke-width="0.4" d="M320.68 159.92V161.31M319.08 159.92h3.2M319.08 161.31h3.2"/><use href="#b" x="320.83" y="161.09"/><path stroke-width="0.4" d="M320.83 160.52V161.94M319.23 160.52h3.2M319.23 161.94h3.2"/><use href="#b" x="320.97" y="162.01"/><path stroke-width="0.4" d="M320.97 161.42V162.88M319.37 161.42h3.2M319.37 162.88h3.2"/><use href="#b" x="321.12" y="162.54"/><path stroke-width="0.4" d="M321.12 161.94V163.44M319.52 161.94h3.2M319.52 163.44h3.2"/><use href="#b" x="321.26" y="162.29"/><path stroke-width="0.4" d="M321.26 161.67V163.21M319.66 161.67h3.2M319.66 163.21h3.2"/><use href="#b" x="321.40" y="163.39"/><path stroke-width="0.4" d="M321.40 162.76V164.34M319.80 162.76h3.2M319.80 164.34h3.2"/><use href="#b" x="321.55" y="163.60"/><path stroke-width="0.4" d="M321.55 162.96V164.57M319.95 162.96h3.2M319.95 164.57h3.2"/><use href="#b" x="321.69" y="164.01"/><path stroke-width="0.4" d="M321.69 163.34V165.00M320.09 163.34h3.2M320.09 165.00h3.2"/><use href="#b" x="321.83" y="164.98"/><path stroke-width="0.4" d="M321.83 164.30V166.00M320.23 164.30h3.2M320.23 166.00h3.2"/><use href="#b" x="321.97" y="164.52"/><path stroke-width="0.4" d="M321.97 163.82V165.57M320.37 163.82h3.2M320.37 165.57h3.2"/><use href="#b" x="322.11" y="167.12"/><path stroke-width="0.4" d="M322.11 166.40V168.19M320.51 166.40h3.2M320.51 168.19h3.2"/><use href="#b" x="322.25" y="166.65"/><path stroke-width="0.4" d="M322.25 165.92V167.76M320.65 165.92h3.2M320.65 167.76h3.2"/><use href="#b" x="322.39" y="168.04"/><path stroke-width="0.4" d="M322.39 167.28V169.17M320.79 167.28h3.2M320.79 169.17h3.2"/><use href="#b" x="322.53" y="167.13"/><path stroke-width="0.4" d="M322.53 166.35V168.29M320.93 166.35h3.2M320.93 168.29h3.2"/><use href="#b" x="322.67" y="167.83"/><path stroke-width="0.4" d="M322.67 167.03V169.03M321.07 167.03h3.2M321.07 169.03h3.2"/><use href="#b" x="322.81" y="171.15"/><path stroke-width="0.4" d="M322.81 170.33V172.38M321.21 170.33h3.2M321.21 172.38h3.2"/><use href="#b" x="322.95" y="171.06"/><path stroke-width="0.4" d="M322.95 170.22V172.33M321.35 170.22h3.2M321.35 172.33h3.2"/><use href="#b" x="323.09" y="170.43"/><path stroke-width="0.4" d="M323.09 169.56V171.73M321.49 169.56h3.2M321.49 171.73h3.2"/><use href="#b" x="323.22" y="170.95"/><path stroke-width="0.4" d="M323.22 170.06V172.28M321.62 170.06h3.2M321.62 172.28h3.2"/><use href="#b" x="323.36" y="171.61"/><path stroke-width="0.4" d="M323.36 170.69V172.98M321.76 170.69h3.2M321.76 172.98h3.2"/><use href="#b" x="323.50" y="172.92"/><path stroke-width="0.4" d="M323.50 171.98V174.33M321.90 171.98h3.2M321.90 174.33h3.2"/><use href="#b" x="323.63" y="173.10"/><path stroke-width="0.4" d="M323.63 172.13V174.54M322.03 172.13h3.2M322.03 174.54h3.2"/><use href="#b" x="323.77" y="173.55"/><path stroke-width="0.4" d="M323.77 172.56V175.03M322.17 172.56h3.2M322.17 175.03h3.2"/><use href="#b" x="323.91" y="174.85"/><path stroke-width="0.4" d="M323.91 173.83V176.38M322.31 173.83h3.2M322.31 176.38h3.2"/><use href="#b" x="324.04" y="174.44"/><path stroke-width="0.4" d="M324.04 173.40V176.02M322.44 173.40h3.2M322.44 176.02h3.2"/><use href="#b" x="324.18" y="178.28"/><path stroke-width="0.4" d="M324.18 177.20V179.89M322.58 177.20h3.2M322.58 179.89h3.2"/><use href="#b" x="324.31" y="176.08"/><path stroke-width="0.4" d="M324.31 174.97V177.74M322.71 174.97h3.2M322.71 177.74h3.2"/><use href="#b" x="324.44" y="178.44"/><path stroke-width="0.4" d="M324.44 177.30V180.14M322.84 177.30h3.2M322.84 180.14h3.2"/><use href="#b" x="324.58" y="177.00"/><path stroke-width="0.4" d="M324.58 175.83V178.75M322.98 175.83h3.2M322.98 178.75h3.2"/><use href="#b" x="324.71" y="178.92"/><path stroke-width="0.4" d="M324.71 177.72V180.72M323.11 177.72h3.2M323.11 180.72h3.2"/><use href="#b" x="324.84" y="180.32"/><path stroke-width="0.4" d="M324.84 179.09V182.18M323.24 179.09h3.2M323.24 182.18h3.2"/><use href="#b" x="324.97" y="179.55"/><path stroke-width="0.4" d="M324.97 178.27V181.45M323.37 178.27h3.2M323.37 181.45h3.2"/><use href="#b" x="325.11" y="181.72"/><path stroke-width="0.4" d="M325.11 180.41V183.68M323.51 180.41h3.2M323.51 183.68h3.2"/><use href="#b" x="325.24" y="182.41"/><path stroke-width="0.4" d="M325.24 181.06V184.43M323.64 181.06h3.2M323.64 184.43h3.2"/><use href="#b" x="325.37" y="183.92"/><path stroke-width="0.4" d="M325.37 182.54V186.00M323.77 182.54h3.2M323.77 186.00h3.2"/><use href="#b" x="325.50" y="182.65"/><path stroke-width="0.4" d="M325.50 181.22V184.78M323.90 181.22h3.2M323.90 184.78h3.2"/><use href="#b" x="325.63" y="182.61"/><path stroke-width="0.4" d="M325.63 181.15V184.81M324.03 181.15h3.2M324.03 184.81h3.2"/><use href="#b" x="325.76" y="182.53"/><path stroke-width="0.4" d="M325.76 181.03V184.79M324.16 181.03h3.2M324.16 184.79h3.2"/><use href="#b" x="325.89" y="184.79"/><path stroke-width="0.4" d="M325.89 183.27V187.08M324.29 183.27h3.2M324.29 187.08h3.2"/><use href="#b" x="326.02" y="183.81"/><path stroke-width="0.4" d="M326.02 182.28V186.09M324.42 182.28h3.2M324.42 186.09h3.2"/><use href="#b" x="326.15" y="185.90"/><path stroke-width="0.4" d="M326.15 184.37V188.18M324.55 184.37h3.2M324.55 188.18h3.2"/><use href="#b" x="326.28" y="186.71"/><path stroke-width="0.4" d="M326.28 185.19V189.00M324.68 185.19h3.2M324.68 189.00h3.2"/><use href="#b" x="326.41" y="186.46"/><path stroke-width="0.4" d="M326.41 184.93V188.74M324.81 184.93h3.2M324.81 188.74h3.2"/><use href="#b" x="326.53" y="186.45"/><path stroke-width="0.4" d="M326.53 184.93V188.73M324.93 184.93h3.2M324.93 188.73h3.2"/><use href="#b" x="326.66" y="189.05"/><path stroke-width="0.4" d="M326.66 187.53V191.34M325.06 187.53h3.2M325.06 191.34h3.2"/><use href="#b" x="326.79" y="189.58"/><path stroke-width="0.4" d="M326.79 188.06V191.86M325.19 188.06h3.2M325.19 191.86h3.2"/><use href="#b" x="326.91" y="190.13"/><path stroke-width="0.4" d="M326.91 188.60V192.41M325.31 188.60h3.2M325.31 192.41h3.2"/><use href="#b" x="327.04" y="190.45"/><path stroke-width="0.4" d="M327.04 188.93V192.73M325.44 188.93h3.2M325.44 192.73h3.2"/><use href="#b" x="327.17" y="192.47"/><path stroke-width="0.4" d="M327.17 190.95V194.76M325.57 190.95h3.2M325.57 194.76h3.2"/><use href="#b" x="327.29" y="190.46"/><path stroke-width="0.4" d="M327.29 188.94V192.75M325.69 188.94h3.2M325.69 192.75h3.2"/><use href="#b" x="327.42" y="193.10"/><path stroke-width="0.4" d="M327.42 191.58V195.39M325.82 191.58h3.2M325.82 195.39h3.2"/><use href="#b" x="327.54" y="192.57"/><path stroke-width="0.4" d="M327.54 191.04V194.85M325.94 191.04h3.2M325.94 194.85h3.2"/><use href="#b" x="327.67" y="195.00"/><path stroke-width="0.4" d="M327.67 193.48V197.29M326.07 193.48h3.2M326.07 197.29h3.2"/><use href="#b" x="327.79" y="194.02"/><path stroke-width="0.4" d="M327.79 192.50V196.30M326.19 192.50h3.2M326.19 196.30h3.2"/><use href="#b" x="327.92" y="194.62"/><path stroke-width="0.4" d="M327.92 193.10V196.91M326.32 193.10h3.2M326.32 196.91h3.2"/><use href="#b" x="328.04" y="196.39"/><path stroke-width="0.4" d="M328.04 194.87V198.68M326.44 194.87h3.2M326.44 198.68h3.2"/><use href="#b" x="328.16" y="193.65"/><path stroke-width="0.4" d="M328.16 192.13V195.94M326.56 192.13h3.2M326.56 195.94h3.2"/><use href="#b" x="328.29" y="196.58"/><path stroke-width="0.4" d="M328.29 195.06V198.87M326.69 195.06h3.2M326.69 198.87h3.2"/><use href="#b" x="328.41" y="195.27"/><path stroke-width="0.4" d="M328.41 193.75V197.56M326.81 193.75h3.2M326.81 197.56h3.2"/><use href="#b" x="328.53" y="197.04"/><path stroke-width="0.4" d="M328.53 195.52V199.33M326.93 195.52h3.2M326.93 199.33h3.2"/><use href="#b" x="328.65" y="199.92"/><path stroke-width="0.4" d="M328.65 198.39V202.20M327.05 198.39h3.2M327.05 202.20h3.2"/><use href="#b" x="328.77" y="200.15"/><path stroke-width="0.4" d="M328.77 198.63V202.44M327.17 198.63h3.2M327.17 202.44h3.2"/><use href="#b" x="328.90" y="199.64"/><path stroke-width="0.4" d="M328.90 198.11V201.92M327.30 198.11h3.2M327.30 201.92h3.2"/><use href="#b" x="329.02" y="200.76"/><path stroke-width="0.4" d="M329.02 199.24V203.05M327.42 199.24h3.2M327.42 203.05h3.2"/><use href="#b" x="329.14" y="201.38"/><path stroke-width="0.4" d="M329.14 199.86V203.67M327.54 199.86h3.2M327.54 203.67h3.2"/><use href="#b" x="329.26" y="202.45"/><path stroke-width="0.4" d="M329.26 200.93V204.73M327.66 200.93h3.2M327.66 204.73h3.2"/><use href="#b" x="329.38" y="205.15"/><path stroke-width="0.4" d="M329.38 203.63V207.44M327.78 203.63h3.2M327.78 207.44h3.2"/><use href="#b" x="329.50" y="203.55"/><path stroke-width="0.4" d="M329.50 202.03V205.83M327.90 202.03h3.2M327.90 205.83h3.2"/><use href="#b" x="329.62" y="206.89"/><path stroke-width="0.4" d="M329.62 205.36V209.17M328.02 205.36h3.2M328.02 209.17h3.2"/><use href="#b" x="329.74" y="203.87"/><path stroke-width="0.4" d="M329.74 202.35V206.16M328.14 202.35h3.2M328.14 206.16h3.2"/><use href="#b" x="329.86" y="205.95"/><path stroke-width="0.4" d="M329.86 204.43V208.23M328.26 204.43h3.2M328.26 208.23h3.2"/><use href="#b" x="329.97" y="206.48"/><path stroke-width="0.4" d="M329.97 204.96V208.76M328.37 204.96h3.2M328.37 208.76h3.2"/><use href="#b" x="330.09" y="206.33"/><path stroke-width="0.4" d="M330.09 204.80V208.61M328.49 204.80h3.2M328.49 208.61h3.2"/><use href="#b" x="330.21" y="206.17"/><path stroke-width="0.4" d="M330.21 204.65V208.46M328.61 204.65h3.2M328.61 208.46h3.2"/><use href="#b" x="330.33" y="209.05"/><path stroke-width="0.4" d="M330.33 207.53V211.34M328.73 207.53h3.2M328.73 211.34h3.2"/><use href="#b" x="330.44" y="210.00"/><path stroke-width="0.4" d="M330.44 208.48V212.29M328.84 208.48h3.2M328.84 212.29h3.2"/><use href="#b" x="330.56" y="209.56"/><path stroke-width="0.4" d="M330.56 208.03V211.84M328.96 208.03h3.2M328.96 211.84h3.2"/><use href="#b" x="330.68" y="211.39"/><path stroke-width="0.4" d="M330.68 209.87V213.68M329.08 209.87h3.2M329.08 213.68h3.2"/><use href="#b" x="330.80" y="210.38"/><path stroke-width="0.4" d="M330.80 197.89V228.50M329.20 197.89h3.2M329.20 228.50h3.2"/><use href="#b" x="330.91" y="208.59"/><path stroke-width="0.4" d="M330.91 207.07V210.88M329.31 207.07h3.2M329.31 210.88h3.2"/><use href="#b" x="331.03" y="209.52"/><path stroke-width="0.4" d="M331.03 207.99V211.80M329.43 207.99h3.2M329.43 211.80h3.2"/><use href="#b" x="331.14" y="210.44"/><path stroke-width="0.4" d="M331.14 208.92V212.72M329.54 208.92h3.2M329.54 212.72h3.2"/><use href="#b" x="331.26" y="208.34"/><path stroke-width="0.4" d="M331.26 206.82V210.63M329.66 206.82h3.2M329.66 210.63h3.2"/><use href="#b" x="331.37" y="211.01"/><path stroke-width="0.4" d="M331.37 200.50V226.77M329.77 200.50h3.2M329.77 226.77h3.2"/><use href="#b" x="331.49" y="211.92"/><path stroke-width="0.4" d="M331.49 210.39V214.20M329.89 210.39h3.2M329.89 214.20h3.2"/><use href="#b" x="331.60" y="212.02"/><path stroke-width="0.4" d="M331.60 210.49V214.30M330.00 210.49h3.2M330.00 214.30h3.2"/><use href="#b" x="331.72" y="215.07"/><path stroke-width="0.4" d="M331.72 213.54V217.35M330.12 213.54h3.2M330.12 217.35h3.2"/><use href="#b" x="331.83" y="211.45"/><path stroke-width="0.4" d="M331.83 209.93V213.73M330.23 209.93h3.2M330.23 213.73h3.2"/><use href="#b" x="331.94" y="214.10"/><path stroke-width="0.4" d="M331.94 212.57V216.38M330.34 212.57h3.2M330.34 216.38h3.2"/><use href="#b" x="332.06" y="215.22"/><path stroke-width="0.4" d="M332.06 213.70V217.51M330.46 213.70h3.2M330.46 217.51h3.2"/><use href="#b" x="332.17" y="210.23"/><path stroke-width="0.4" d="M332.17 208.71V212.52M330.57 208.71h3.2M330.57 212.52h3.2"/><use href="#b" x="332.28" y="215.44"/><path stroke-width="0.4" d="M332.28 213.92V217.72M330.68 213.92h3.2M330.68 217.72h3.2"/><use href="#b" x="332.39" y="214.74"/><path stroke-width="0.4" d="M332.39 213.22V217.03M330.79 213.22h3.2M330.79 217.03h3.2"/><use href="#b" x="332.51" y="215.59"/><path stroke-width="0.4" d="M332.51 214.07V217.87M330.91 214.07h3.2M330.91 217.87h3.2"/><use href="#b" x="332.62" y="213.48"/><path stroke-width="0.4" d="M332.62 211.96V215.77M331.02 211.96h3.2M331.02 215.77h3.2"/><use href="#b" x="332.73" y="215.47"/><path stroke-width="0.4" d="M332.73 213.95V217.75M331.13 213.95h3.2M331.13 217.75h3.2"/><use href="#b" x="332.84" y="217.32"/><path stroke-width="0.4" d="M332.84 207.35V228.50M331.24 207.35h3.2M331.24 228.50h3.2"/><use href="#b" x="332.95" y="214.35"/><path stroke-width="0.4" d="M332.95 212.83V216.64M331.35 212.83h3.2M331.35 216.64h3.2"/><use href="#b" x="333.06" y="214.92"/><path stroke-width="0.4" d="M333.06 213.40V217.20M331.46 213.40h3.2M331.46 217.20h3.2"/><use href="#b" x="333.17" y="214.15"/><path stroke-width="0.4" d="M333.17 212.63V216.43M331.57 212.63h3.2M331.57 216.43h3.2"/><use href="#b" x="333.28" y="214.75"/><path stroke-width="0.4" d="M333.28 213.23V217.03M331.68 213.23h3.2M331.68 217.03h3.2"/><use href="#b" x="333.39" y="217.16"/><path stroke-width="0.4" d="M333.39 215.64V219.44M331.79 215.64h3.2M331.79 219.44h3.2"/><use href="#b" x="333.50" y="216.44"/><path stroke-width="0.4" d="M333.50 214.92V218.72M331.90 214.92h3.2M331.90 218.72h3.2"/><use href="#b" x="333.61" y="214.40"/><path stroke-width="0.4" d="M333.61 201.45V228.50M332.01 201.45h3.2M332.01 228.50h3.2"/><use href="#b" x="333.72" y="216.96"/><path stroke-width="0.4" d="M333.72 215.43V219.24M332.12 215.43h3.2M332.12 219.24h3.2"/><use href="#b" x="333.83" y="216.49"/><path stroke-width="0.4" d="M333.83 214.96V218.77M332.23 214.96h3.2M332.23 218.77h3.2"/><use href="#b" x="333.94" y="217.13"/><path stroke-width="0.4" d="M333.94 210.18V227.56M332.34 210.18h3.2M332.34 227.56h3.2"/><use href="#b" x="334.05" y="216.95"/><path stroke-width="0.4" d="M334.05 215.43V219.23M332.45 215.43h3.2M332.45 219.23h3.2"/><use href="#b" x="334.16" y="216.87"/><path stroke-width="0.4" d="M334.16 215.35V219.16M332.56 215.35h3.2M332.56 219.16h3.2"/><use href="#b" x="334.26" y="218.42"/><path stroke-width="0.4" d="M334.26 216.89V220.70M332.66 216.89h3.2M332.66 220.70h3.2"/><use href="#b" x="334.37" y="216.15"/><path stroke-width="0.4" d="M334.37 214.63V218.44M332.77 214.63h3.2M332.77 218.44h3.2"/><use href="#b" x="334.48" y="218.28"/><path stroke-width="0.4" d="M334.48 216.76V220.56M332.88 216.76h3.2M332.88 220.56h3.2"/><use href="#b" x="334.59" y="214.22"/><path stroke-width="0.4" d="M334.59 212.70V216.51M332.99 212.70h3.2M332.99 216.51h3.2"/><use href="#b" x="334.69" y="217.08"/><path stroke-width="0.4" d="M334.69 204.09V228.50M333.09 204.09h3.2M333.09 228.50h3.2"/><use href="#b" x="334.80" y="219.21"/><path stroke-width="0.4" d="M334.80 217.69V221.50M333.20 217.69h3.2M333.20 221.50h3.2"/><use href="#b" x="334.91" y="217.92"/><path stroke-width="0.4" d="M334.91 216.40V220.21M333.31 216.40h3.2M333.31 220.21h3.2"/><use href="#b" x="335.01" y="217.99"/><path stroke-width="0.4" d="M335.01 216.46V220.27M333.41 216.46h3.2M333.41 220.27h3.2"/><use href="#b" x="335.12" y="216.72"/><path stroke-width="0.4" d="M335.12 215.19V219.00M333.52 215.19h3.2M333.52 219.00h3.2"/><use href="#b" x="335.22" y="218.41"/><path stroke-width="0.4" d="M335.22 216.89V220.69M333.62 216.89h3.2M333.62 220.69h3.2"/><use href="#b" x="335.33" y="217.92"/><path stroke-width="0.4" d="M335.33 216.39V220.20M333.73 216.39h3.2M333.73 220.20h3.2"/><use href="#b" x="335.43" y="218.14"/><path stroke-width="0.4" d="M335.43 216.62V220.43M333.83 216.62h3.2M333.83 220.43h3.2"/><use href="#b" x="335.54" y="217.43"/><path stroke-width="0.4" d="M335.54 215.91V219.71M333.94 215.91h3.2M333.94 219.71h3.2"/><use href="#b" x="335.64" y="217.48"/><path stroke-width="0.4" d="M335.64 215.96V219.77M334.04 215.96h3.2M334.04 219.77h3.2"/><use href="#b" x="335.75" y="218.19"/><path stroke-width="0.4" d="M335.75 216.66V220.47M334.15 216.66h3.2M334.15 220.47h3.2"/><use href="#b" x="335.85" y="216.99"/><path stroke-width="0.4" d="M335.85 207.29V228.50M334.25 207.29h3.2M334.25 228.50h3.2"/><use href="#b" x="335.96" y="218.03"/><path stroke-width="0.4" d="M335.96 216.50V220.31M334.36 216.50h3.2M334.36 220.31h3.2"/><use href="#b" x="336.06" y="218.78"/><path stroke-width="0.4" d="M336.06 217.25V221.06M334.46 217.25h3.2M334.46 221.06h3.2"/><use href="#b" x="336.16" y="217.90"/><path stroke-width="0.4" d="M336.16 216.38V220.19M334.56 216.38h3.2M334.56 220.19h3.2"/><use href="#b" x="336.27" y="216.57"/><path stroke-width="0.4" d="M336.27 215.04V218.85M334.67 215.04h3.2M334.67 218.85h3.2"/><use href="#b" x="336.37" y="221.32"/><path stroke-width="0.4" d="M336.37 219.79V223.60M334.77 219.79h3.2M334.77 223.60h3.2"/><use href="#b" x="336.47" y="220.97"/><path stroke-width="0.4" d="M336.47 219.45V223.26M334.87 219.45h3.2M334.87 223.26h3.2"/><use href="#b" x="336.57" y="216.74"/><path stroke-width="0.4" d="M336.57 215.22V219.03M334.97 215.22h3.2M334.97 219.03h3.2"/><use href="#b" x="336.68" y="220.08"/><path stroke-width="0.4" d="M336.68 218.56V222.36M335.08 218.56h3.2M335.08 222.36h3.2"/></g>
</g>
<path d="M60.5 15.5H379.0V228.5H60.5Z" fill="none" stroke="#000" stroke-width="0.8"/>
<path d="M60.50 228.50v-3.4M60.50 15.50v3.4M106.00 228.50v-3.4M106.00 15.50v3.4M151.50 228.50v-3.4M151.50 15.50v3.4M197.00 228.50v-3.4M197.00 15.50v3.4M242.50 228.50v-3.4M242.50 15.50v3.4M288.00 228.50v-3.4M288.00 15.50v3.4M333.50 228.50v-3.4M333.50 15.50v3.4M379.00 228.50v-3.4M379.00 15.50v3.4M60.50 26.15h3.4M379.00 26.15h-3.4M60.50 79.40h3.4M379.00 79.40h-3.4M60.50 132.65h3.4M379.00 132.65h-3.4M60.50 185.90h3.4M379.00 185.90h-3.4" fill="none" stroke="#000" stroke-width="0.7"/>
<text transform="translate(60.50 246.10) rotate(0.03) scale(1.120 1)" text-anchor="middle" fill="#000" font-size="12.25">-6</text>
<text transform="translate(106.00 246.10) rotate(0.03) scale(1.120 1)" text-anchor="middle" fill="#000" font-size="12.25">-5</text>
<text transform="translate(151.50 246.10) rotate(0.03) scale(1.120 1)" text-anchor="middle" fill="#000" font-size="12.25">-4</text>
<text transform="translate(197.00 246.10) rotate(0.03) scale(1.120 1)" text-anchor="middle" fill="#000" font-size="12.25">-3</text>
<text transform="translate(242.50 246.10) rotate(0.03) scale(1.120 1)" text-anchor="middle" fill="#000" font-size="12.25">-2</text>
<text transform="translate(288.00 246.10) rotate(0.03) scale(1.120 1)" text-anchor="middle" fill="#000" font-size="12.25">-1</text>
<text transform="translate(333.50 246.10) rotate(0.03) scale(1.120 1)" text-anchor="middle" fill="#000" font-size="12.25">0</text>
<text transform="translate(379.00 246.10) rotate(0.03) scale(1.120 1)" text-anchor="middle" fill="#000" font-size="12.25">1</text>
<text transform="translate(52.00 30.65) rotate(0.03) scale(1.120 1)" text-anchor="end" fill="#000" font-size="12.25">5</text>
<text transform="translate(52.00 83.90) rotate(0.03) scale(1.120 1)" text-anchor="end" fill="#000" font-size="12.25">0</text>
<text transform="translate(52.00 137.15) rotate(0.03) scale(1.120 1)" text-anchor="end" fill="#000" font-size="12.25">-5</text>
<text transform="translate(52.00 190.40) rotate(0.03) scale(1.120 1)" text-anchor="end" fill="#000" font-size="12.25">-10</text>
<text transform="translate(319.20 28.60) rotate(0.03) scale(1.120 1)" text-anchor="end" fill="#ff0000" font-size="12.25">1156</text>
<g stroke="#ff0000" fill="none" stroke-width="0.50"><path d="M327.3 24.90H362.9"/><path d="M327.3 23.30v3.2M362.9 23.30v3.2"/><use href="#p" x="345.2" y="24.90" stroke-width="0.6"/></g>
<text transform="translate(319.20 41.40) rotate(0.03) scale(1.120 1)" text-anchor="end" fill="#00ff00" font-size="12.25">2116</text>
<g stroke="#00ff00" fill="none" stroke-width="0.50"><path d="M327.3 37.70H362.9" stroke-dasharray="2.6 1.1"/><path d="M327.3 36.10v3.2M362.9 36.10v3.2"/><use href="#c" x="345.2" y="37.70" stroke-width="0.6"/></g>
<text transform="translate(319.20 54.20) rotate(0.03) scale(1.120 1)" text-anchor="end" fill="#0000ff" font-size="12.25">4624</text>
<g stroke="#0000ff" fill="none" stroke-width="0.45"><path d="M327.3 50.50H362.9" stroke-dasharray="1.2 0.9"/><path d="M327.3 48.90v3.2M362.9 48.90v3.2"/><use href="#s" x="345.2" y="50.50" stroke-width="0.6"/></g>
<text transform="translate(319.20 67.00) rotate(0.03) scale(1.120 1)" text-anchor="end" fill="#ff00ff" font-size="12.25">8464</text>
<g stroke="#ff00ff" fill="none" stroke-width="0.32"><path d="M327.3 63.30H362.9" stroke-dasharray="1.6 0.9"/><path d="M327.3 61.70v3.2M362.9 61.70v3.2"/><use href="#b" x="345.2" y="63.30" stroke-width="0.6"/></g>
<text transform="translate(17.7 120.9) rotate(-90) scale(1.09 1)" text-anchor="middle" font-size="12.25">log(SV(l))</text>
<text transform="translate(189 265.9) scale(1.07 1)" font-size="12.25">log(l/N<tspan dy="-5.6" dx="0.6" font-size="10.2">1/&#948;</tspan><tspan dy="2.6" font-size="7.2">h</tspan><tspan dy="3.0" dx="0.6" font-size="12.25">)</tspan></text>
</svg>
</body></html>
